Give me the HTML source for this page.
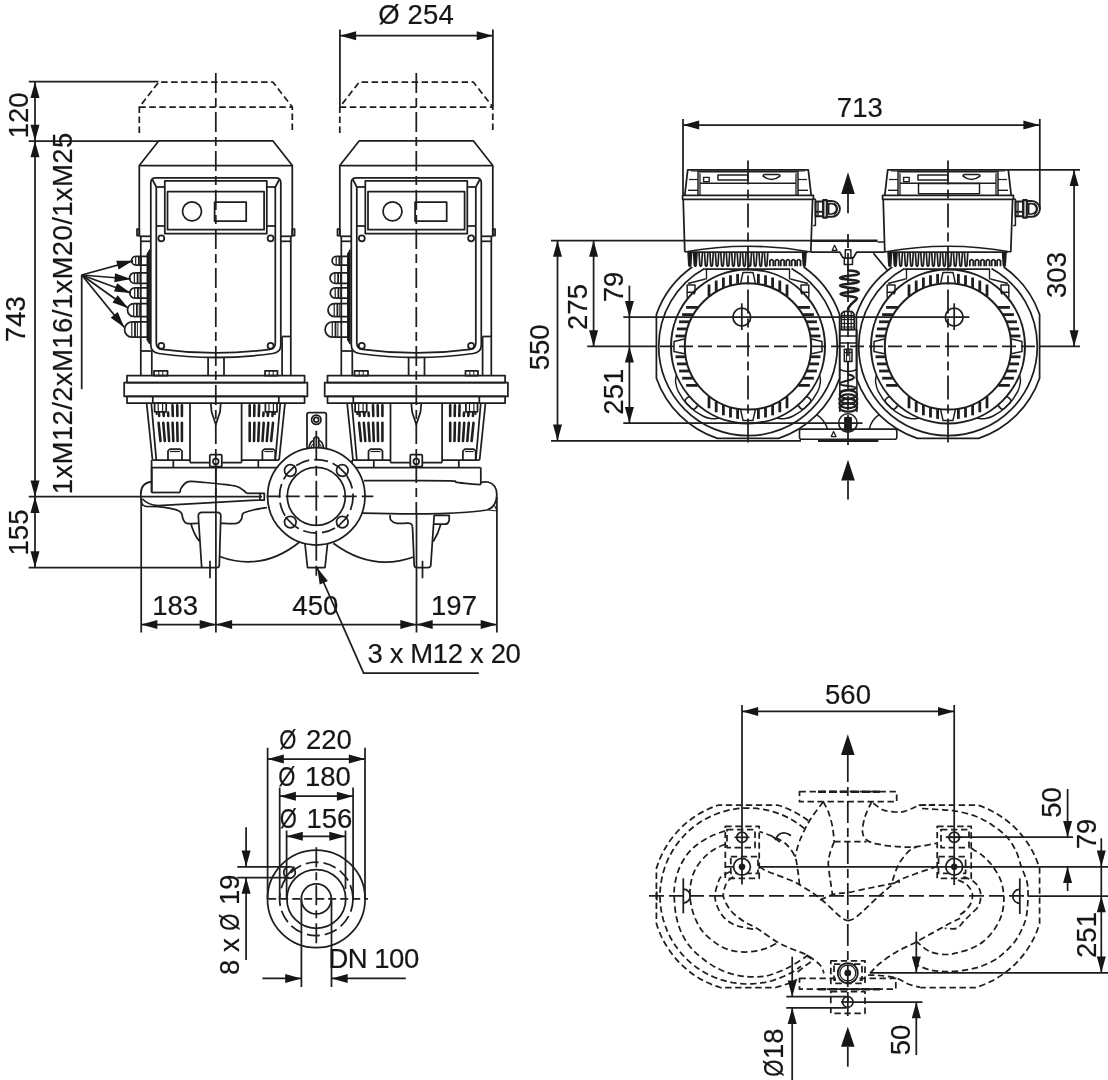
<!DOCTYPE html>
<html><head><meta charset="utf-8"><title>Dimension drawing</title>
<style>
html,body{margin:0;padding:0;background:#fff;}
body{width:1108px;height:1080px;overflow:hidden;}
svg{display:block;will-change:transform;opacity:0.999;}
svg *{vector-effect:none;}
.d{fill:none;stroke:#1e1e1e;stroke-width:1.75;stroke-linecap:butt;stroke-linejoin:round;}
text{font-family:"Liberation Sans",sans-serif;fill:#161616;stroke:#161616;stroke-width:0.2;stroke-linejoin:round;}
</style></head><body>
<svg width="1108" height="1080" viewBox="0 0 1108 1080">
<rect width="1108" height="1080" fill="#fff"/>
<g class="d">
<path d="M139.3,133 L139.3,107 L158.8,82 L272.8,82 L292.3,107 L292.3,133" stroke-dasharray="6.5 3.5"/>
<line x1="139.3" y1="107.0" x2="292.3" y2="107.0" stroke-dasharray="6.5 3.5"/>
<path d="M139.3,236 L139.3,165.5 L158.8,140.8 L272.8,140.8 L292.3,165.5 L292.3,236"/>
<line x1="139.3" y1="165.5" x2="292.3" y2="165.5"/>
<rect x="137.0" y="229.0" width="2.3" height="6.5"/>
<rect x="292.3" y="229.0" width="2.3" height="6.5"/>
<line x1="139.3" y1="236.3" x2="150.8" y2="236.3"/>
<line x1="280.8" y1="236.3" x2="292.3" y2="236.3"/>
<line x1="140.8" y1="241.3" x2="150.8" y2="241.3"/>
<line x1="280.8" y1="241.3" x2="290.8" y2="241.3"/>
<line x1="140.8" y1="236.3" x2="140.8" y2="375.5"/>
<line x1="290.8" y1="236.3" x2="290.8" y2="375.5"/>
<line x1="282.1" y1="336.5" x2="282.1" y2="375.5"/>
<line x1="282.1" y1="336.5" x2="290.8" y2="336.5"/>
<line x1="140.8" y1="351.0" x2="151.8" y2="351.0"/>
<line x1="151.8" y1="351.0" x2="151.8" y2="375.5"/>
<path d="M150.8,345.0 L150.8,182.8 Q150.8,177.8 155.8,177.8 L275.8,177.8 Q280.8,177.8 280.8,182.8 L280.8,345 Q280.8,352.5 272.8,353.5 Q215.8,361.5 158.8,353.5 Q150.8,352.5 150.8,345 Z"/>
<path d="M156.3,187 L156.3,343 Q156.3,348.5 161.8,349.3 Q215.8,356.6 269.8,349.3 Q275.3,348.5 275.3,343 L275.3,187"/>
<line x1="152.3" y1="179.5" x2="156.3" y2="187.0"/>
<line x1="279.3" y1="179.5" x2="275.3" y2="187.0"/>
<line x1="156.3" y1="187.0" x2="164.8" y2="187.0"/>
<line x1="275.3" y1="187.0" x2="266.8" y2="187.0"/>
<line x1="156.3" y1="226.0" x2="164.8" y2="226.0"/>
<line x1="275.3" y1="226.0" x2="266.8" y2="226.0"/>
<rect x="164.8" y="180.8" width="102.0" height="52.9"/>
<rect x="167.5" y="191.7" width="96.6" height="38.0"/>
<circle cx="192.0" cy="211.3" r="9.5"/>
<rect x="214.6" y="202.0" width="31.6" height="19.2"/>
<circle cx="161.3" cy="238.3" r="3.0"/>
<circle cx="161.3" cy="345.8" r="3.0"/>
<circle cx="270.6" cy="238.3" r="3.0"/>
<circle cx="270.6" cy="345.8" r="3.0"/>
<line x1="208.1" y1="358.0" x2="208.1" y2="375.5"/>
<line x1="224.0" y1="358.0" x2="224.0" y2="375.5"/>
<rect x="154.0" y="370.8" width="13.5" height="4.7"/>
<line x1="158.8" y1="370.8" x2="158.8" y2="375.5" stroke-width="1"/>
<line x1="162.8" y1="370.8" x2="162.8" y2="375.5" stroke-width="1"/>
<rect x="265.0" y="370.8" width="12.5" height="4.7"/>
<line x1="269.2" y1="370.8" x2="269.2" y2="375.5" stroke-width="1"/>
<line x1="273.2" y1="370.8" x2="273.2" y2="375.5" stroke-width="1"/>
<rect x="127.0" y="375.6" width="177.6" height="6.9"/>
<rect x="124.2" y="382.5" width="183.2" height="13.8"/>
<rect x="127.0" y="396.3" width="177.6" height="6.7"/>
<line x1="152.8" y1="396.3" x2="152.8" y2="403.0"/>
<line x1="278.8" y1="396.3" x2="278.8" y2="403.0"/>
<line x1="146.6" y1="403.0" x2="152.5" y2="460.0"/>
<line x1="151.3" y1="403.0" x2="156.3" y2="460.0"/>
<line x1="285.0" y1="403.0" x2="279.1" y2="460.0"/>
<line x1="280.3" y1="403.0" x2="275.3" y2="460.0"/>
<line x1="190.0" y1="403.0" x2="190.0" y2="462.5"/>
<line x1="241.6" y1="403.0" x2="241.6" y2="462.5"/>
<line x1="190.0" y1="462.5" x2="241.6" y2="462.5"/>
<line x1="181.9" y1="405.2" x2="181.9" y2="416.0" stroke-linecap="round" stroke-width="2.6"/>
<line x1="181.9" y1="422.8" x2="181.9" y2="441.0" stroke-linecap="round" stroke-width="2.6"/>
<line x1="177.2" y1="405.2" x2="177.4" y2="416.0" stroke-linecap="round" stroke-width="2.6"/>
<line x1="177.2" y1="422.8" x2="177.6" y2="441.0" stroke-linecap="round" stroke-width="2.6"/>
<line x1="172.5" y1="405.2" x2="172.8" y2="416.0" stroke-linecap="round" stroke-width="2.6"/>
<line x1="172.6" y1="422.8" x2="173.3" y2="441.0" stroke-linecap="round" stroke-width="2.6"/>
<line x1="168.1" y1="412.5" x2="168.3" y2="416.0" stroke-linecap="round" stroke-width="2.6"/>
<line x1="167.9" y1="422.8" x2="169.1" y2="441.0" stroke-linecap="round" stroke-width="2.6"/>
<line x1="163.4" y1="412.5" x2="163.8" y2="416.0" stroke-linecap="round" stroke-width="2.6"/>
<line x1="163.3" y1="422.8" x2="164.8" y2="441.0" stroke-linecap="round" stroke-width="2.6"/>
<line x1="158.8" y1="412.5" x2="159.2" y2="416.0" stroke-linecap="round" stroke-width="2.6"/>
<line x1="158.6" y1="422.8" x2="160.5" y2="441.0" stroke-linecap="round" stroke-width="2.6"/>
<rect x="154.6" y="403.0" width="11.6" height="8.8" fill="#fff"/>
<line x1="158.2" y1="403.0" x2="158.2" y2="411.8" stroke-width="1.2"/>
<line x1="162.6" y1="403.0" x2="162.6" y2="411.8" stroke-width="1.2"/>
<line x1="156.6" y1="411.8" x2="156.6" y2="415.0"/>
<line x1="164.2" y1="411.8" x2="164.2" y2="415.0"/>
<line x1="249.7" y1="405.2" x2="249.7" y2="416.0" stroke-linecap="round" stroke-width="2.6"/>
<line x1="249.7" y1="422.8" x2="249.7" y2="441.0" stroke-linecap="round" stroke-width="2.6"/>
<line x1="254.4" y1="405.2" x2="254.2" y2="416.0" stroke-linecap="round" stroke-width="2.6"/>
<line x1="254.4" y1="422.8" x2="254.0" y2="441.0" stroke-linecap="round" stroke-width="2.6"/>
<line x1="259.1" y1="405.2" x2="258.8" y2="416.0" stroke-linecap="round" stroke-width="2.6"/>
<line x1="259.0" y1="422.8" x2="258.3" y2="441.0" stroke-linecap="round" stroke-width="2.6"/>
<line x1="263.5" y1="412.5" x2="263.3" y2="416.0" stroke-linecap="round" stroke-width="2.6"/>
<line x1="263.7" y1="422.8" x2="262.5" y2="441.0" stroke-linecap="round" stroke-width="2.6"/>
<line x1="268.2" y1="412.5" x2="267.8" y2="416.0" stroke-linecap="round" stroke-width="2.6"/>
<line x1="268.3" y1="422.8" x2="266.8" y2="441.0" stroke-linecap="round" stroke-width="2.6"/>
<line x1="272.8" y1="412.5" x2="272.4" y2="416.0" stroke-linecap="round" stroke-width="2.6"/>
<line x1="273.0" y1="422.8" x2="271.1" y2="441.0" stroke-linecap="round" stroke-width="2.6"/>
<rect x="265.4" y="403.0" width="11.6" height="8.8" fill="#fff"/>
<line x1="269.0" y1="403.0" x2="269.0" y2="411.8" stroke-width="1.2"/>
<line x1="273.4" y1="403.0" x2="273.4" y2="411.8" stroke-width="1.2"/>
<line x1="267.4" y1="411.8" x2="267.4" y2="415.0"/>
<line x1="275.0" y1="411.8" x2="275.0" y2="415.0"/>
<path d="M168.0,460 L168.0,451 L170.0,449 L180.0,449 L182.0,451 L182.0,460"/>
<line x1="170.0" y1="451.5" x2="180.0" y2="451.5" stroke-width="1.2"/>
<path d="M262.4,460 L262.4,451 L264.4,449 L273.2,449 L275.2,451 L275.2,460"/>
<line x1="264.4" y1="451.5" x2="273.2" y2="451.5" stroke-width="1.2"/>
<path d="M210.8,403 L211.6,412 L215.8,424.5 L220.0,412 L220.8,403"/>
<line x1="152.5" y1="460.0" x2="190.0" y2="460.0"/>
<line x1="241.6" y1="460.0" x2="279.1" y2="460.0"/>
<line x1="151.6" y1="460.0" x2="151.6" y2="492.5"/>
<line x1="151.6" y1="467.5" x2="280.0" y2="467.5"/>
<line x1="173.3" y1="460.0" x2="173.3" y2="467.5"/>
<line x1="258.3" y1="460.0" x2="258.3" y2="467.5"/>
<rect x="209.8" y="454.7" width="12.0" height="12.0" rx="1" fill="#fff"/>
<circle cx="215.8" cy="461.5" r="2.8"/>
<line x1="215.8" y1="458.5" x2="215.8" y2="464.5" stroke-width="1"/>
<path d="M339.8,133 L339.8,107 L359.3,82 L473.3,82 L492.8,107 L492.8,133" stroke-dasharray="6.5 3.5"/>
<line x1="339.8" y1="107.0" x2="492.8" y2="107.0" stroke-dasharray="6.5 3.5"/>
<path d="M339.8,236 L339.8,165.5 L359.3,140.8 L473.3,140.8 L492.8,165.5 L492.8,236"/>
<line x1="339.8" y1="165.5" x2="492.8" y2="165.5"/>
<rect x="337.5" y="229.0" width="2.3" height="6.5"/>
<rect x="492.8" y="229.0" width="2.3" height="6.5"/>
<line x1="339.8" y1="236.3" x2="351.3" y2="236.3"/>
<line x1="481.3" y1="236.3" x2="492.8" y2="236.3"/>
<line x1="341.3" y1="241.3" x2="351.3" y2="241.3"/>
<line x1="481.3" y1="241.3" x2="491.3" y2="241.3"/>
<line x1="341.3" y1="236.3" x2="341.3" y2="375.5"/>
<line x1="491.3" y1="236.3" x2="491.3" y2="375.5"/>
<line x1="482.6" y1="336.5" x2="482.6" y2="375.5"/>
<line x1="482.6" y1="336.5" x2="491.3" y2="336.5"/>
<line x1="341.3" y1="351.0" x2="352.3" y2="351.0"/>
<line x1="352.3" y1="351.0" x2="352.3" y2="375.5"/>
<path d="M351.3,345.0 L351.3,182.8 Q351.3,177.8 356.3,177.8 L476.3,177.8 Q481.3,177.8 481.3,182.8 L481.3,345 Q481.3,352.5 473.3,353.5 Q416.3,361.5 359.3,353.5 Q351.3,352.5 351.3,345 Z"/>
<path d="M356.8,187 L356.8,343 Q356.8,348.5 362.3,349.3 Q416.3,356.6 470.3,349.3 Q475.8,348.5 475.8,343 L475.8,187"/>
<line x1="352.8" y1="179.5" x2="356.8" y2="187.0"/>
<line x1="479.8" y1="179.5" x2="475.8" y2="187.0"/>
<line x1="356.8" y1="187.0" x2="365.3" y2="187.0"/>
<line x1="475.8" y1="187.0" x2="467.3" y2="187.0"/>
<line x1="356.8" y1="226.0" x2="365.3" y2="226.0"/>
<line x1="475.8" y1="226.0" x2="467.3" y2="226.0"/>
<rect x="365.3" y="180.8" width="102.0" height="52.9"/>
<rect x="368.0" y="191.7" width="96.6" height="38.0"/>
<circle cx="392.5" cy="211.3" r="9.5"/>
<rect x="415.1" y="202.0" width="31.6" height="19.2"/>
<circle cx="361.8" cy="238.3" r="3.0"/>
<circle cx="361.8" cy="345.8" r="3.0"/>
<circle cx="471.1" cy="238.3" r="3.0"/>
<circle cx="471.1" cy="345.8" r="3.0"/>
<line x1="408.6" y1="358.0" x2="408.6" y2="375.5"/>
<line x1="424.5" y1="358.0" x2="424.5" y2="375.5"/>
<rect x="354.5" y="370.8" width="13.5" height="4.7"/>
<line x1="359.2" y1="370.8" x2="359.2" y2="375.5" stroke-width="1"/>
<line x1="363.2" y1="370.8" x2="363.2" y2="375.5" stroke-width="1"/>
<rect x="465.5" y="370.8" width="12.5" height="4.7"/>
<line x1="469.8" y1="370.8" x2="469.8" y2="375.5" stroke-width="1"/>
<line x1="473.8" y1="370.8" x2="473.8" y2="375.5" stroke-width="1"/>
<rect x="327.5" y="375.6" width="177.6" height="6.9"/>
<rect x="324.7" y="382.5" width="183.2" height="13.8"/>
<rect x="327.5" y="396.3" width="177.6" height="6.7"/>
<line x1="353.3" y1="396.3" x2="353.3" y2="403.0"/>
<line x1="479.3" y1="396.3" x2="479.3" y2="403.0"/>
<line x1="347.1" y1="403.0" x2="353.0" y2="460.0"/>
<line x1="351.8" y1="403.0" x2="356.8" y2="460.0"/>
<line x1="485.5" y1="403.0" x2="479.6" y2="460.0"/>
<line x1="480.8" y1="403.0" x2="475.8" y2="460.0"/>
<line x1="390.5" y1="403.0" x2="390.5" y2="462.5"/>
<line x1="442.1" y1="403.0" x2="442.1" y2="462.5"/>
<line x1="390.5" y1="462.5" x2="442.1" y2="462.5"/>
<line x1="382.4" y1="405.2" x2="382.4" y2="416.0" stroke-linecap="round" stroke-width="2.6"/>
<line x1="382.4" y1="422.8" x2="382.4" y2="441.0" stroke-linecap="round" stroke-width="2.6"/>
<line x1="377.7" y1="405.2" x2="377.9" y2="416.0" stroke-linecap="round" stroke-width="2.6"/>
<line x1="377.7" y1="422.8" x2="378.1" y2="441.0" stroke-linecap="round" stroke-width="2.6"/>
<line x1="373.0" y1="405.2" x2="373.3" y2="416.0" stroke-linecap="round" stroke-width="2.6"/>
<line x1="373.1" y1="422.8" x2="373.8" y2="441.0" stroke-linecap="round" stroke-width="2.6"/>
<line x1="368.6" y1="412.5" x2="368.8" y2="416.0" stroke-linecap="round" stroke-width="2.6"/>
<line x1="368.4" y1="422.8" x2="369.6" y2="441.0" stroke-linecap="round" stroke-width="2.6"/>
<line x1="363.9" y1="412.5" x2="364.3" y2="416.0" stroke-linecap="round" stroke-width="2.6"/>
<line x1="363.8" y1="422.8" x2="365.3" y2="441.0" stroke-linecap="round" stroke-width="2.6"/>
<line x1="359.3" y1="412.5" x2="359.7" y2="416.0" stroke-linecap="round" stroke-width="2.6"/>
<line x1="359.1" y1="422.8" x2="361.0" y2="441.0" stroke-linecap="round" stroke-width="2.6"/>
<rect x="355.1" y="403.0" width="11.6" height="8.8" fill="#fff"/>
<line x1="358.7" y1="403.0" x2="358.7" y2="411.8" stroke-width="1.2"/>
<line x1="363.1" y1="403.0" x2="363.1" y2="411.8" stroke-width="1.2"/>
<line x1="357.1" y1="411.8" x2="357.1" y2="415.0"/>
<line x1="364.7" y1="411.8" x2="364.7" y2="415.0"/>
<line x1="450.2" y1="405.2" x2="450.2" y2="416.0" stroke-linecap="round" stroke-width="2.6"/>
<line x1="450.2" y1="422.8" x2="450.2" y2="441.0" stroke-linecap="round" stroke-width="2.6"/>
<line x1="454.9" y1="405.2" x2="454.7" y2="416.0" stroke-linecap="round" stroke-width="2.6"/>
<line x1="454.9" y1="422.8" x2="454.5" y2="441.0" stroke-linecap="round" stroke-width="2.6"/>
<line x1="459.6" y1="405.2" x2="459.3" y2="416.0" stroke-linecap="round" stroke-width="2.6"/>
<line x1="459.5" y1="422.8" x2="458.8" y2="441.0" stroke-linecap="round" stroke-width="2.6"/>
<line x1="464.0" y1="412.5" x2="463.8" y2="416.0" stroke-linecap="round" stroke-width="2.6"/>
<line x1="464.2" y1="422.8" x2="463.0" y2="441.0" stroke-linecap="round" stroke-width="2.6"/>
<line x1="468.7" y1="412.5" x2="468.3" y2="416.0" stroke-linecap="round" stroke-width="2.6"/>
<line x1="468.8" y1="422.8" x2="467.3" y2="441.0" stroke-linecap="round" stroke-width="2.6"/>
<line x1="473.3" y1="412.5" x2="472.9" y2="416.0" stroke-linecap="round" stroke-width="2.6"/>
<line x1="473.5" y1="422.8" x2="471.6" y2="441.0" stroke-linecap="round" stroke-width="2.6"/>
<rect x="465.9" y="403.0" width="11.6" height="8.8" fill="#fff"/>
<line x1="469.5" y1="403.0" x2="469.5" y2="411.8" stroke-width="1.2"/>
<line x1="473.9" y1="403.0" x2="473.9" y2="411.8" stroke-width="1.2"/>
<line x1="467.9" y1="411.8" x2="467.9" y2="415.0"/>
<line x1="475.5" y1="411.8" x2="475.5" y2="415.0"/>
<path d="M368.5,460 L368.5,451 L370.5,449 L380.5,449 L382.5,451 L382.5,460"/>
<line x1="370.5" y1="451.5" x2="380.5" y2="451.5" stroke-width="1.2"/>
<path d="M462.9,460 L462.9,451 L464.9,449 L473.7,449 L475.7,451 L475.7,460"/>
<line x1="464.9" y1="451.5" x2="473.7" y2="451.5" stroke-width="1.2"/>
<path d="M411.3,403 L412.1,412 L416.3,424.5 L420.5,412 L421.3,403"/>
<line x1="353.0" y1="460.0" x2="390.5" y2="460.0"/>
<line x1="442.1" y1="460.0" x2="479.6" y2="460.0"/>
<line x1="352.1" y1="460.0" x2="352.1" y2="492.5"/>
<line x1="352.1" y1="467.5" x2="480.5" y2="467.5"/>
<line x1="373.8" y1="460.0" x2="373.8" y2="467.5"/>
<line x1="458.8" y1="460.0" x2="458.8" y2="467.5"/>
<rect x="410.3" y="454.7" width="12.0" height="12.0" rx="1" fill="#fff"/>
<circle cx="416.3" cy="461.5" r="2.8"/>
<line x1="416.3" y1="458.5" x2="416.3" y2="464.5" stroke-width="1"/>
<path d="M149.6,249.5 L149.6,344 L147.0,340 L147.0,254 Z" stroke-width="1" fill="#161616"/>
<path d="M135.7,256.4 A4.1,4.3 0 0 0 135.7,265.0"/>
<path d="M135.7,256.4 L147.3,256.4 M135.7,265.0 L147.3,265.0"/>
<line x1="135.7" y1="256.4" x2="135.7" y2="265.0" stroke-width="1.2"/>
<line x1="138.9" y1="256.4" x2="138.9" y2="265.0" stroke-width="1.8"/>
<line x1="141.3" y1="256.4" x2="141.3" y2="265.0" stroke-width="1.0"/>
<path d="M134.4,272.9 A4.9,5.2 0 0 0 134.4,283.3"/>
<path d="M134.4,272.9 L147.3,272.9 M134.4,283.3 L147.3,283.3"/>
<line x1="134.4" y1="272.9" x2="134.4" y2="283.3" stroke-width="1.2"/>
<line x1="137.6" y1="272.9" x2="137.6" y2="283.3" stroke-width="1.8"/>
<line x1="140.0" y1="272.9" x2="140.0" y2="283.3" stroke-width="1.0"/>
<path d="M134.7,287.8 A4.9,5.2 0 0 0 134.7,298.2"/>
<path d="M134.7,287.8 L147.3,287.8 M134.7,298.2 L147.3,298.2"/>
<line x1="134.7" y1="287.8" x2="134.7" y2="298.2" stroke-width="1.2"/>
<line x1="137.9" y1="287.8" x2="137.9" y2="298.2" stroke-width="1.8"/>
<line x1="140.3" y1="287.8" x2="140.3" y2="298.2" stroke-width="1.0"/>
<path d="M133.7,303.6 A6.2,6.5 0 0 0 133.7,316.6"/>
<path d="M133.7,303.6 L147.3,303.6 M133.7,316.6 L147.3,316.6"/>
<line x1="133.7" y1="303.6" x2="133.7" y2="316.6" stroke-width="1.2"/>
<line x1="136.9" y1="303.6" x2="136.9" y2="316.6" stroke-width="1.8"/>
<line x1="139.3" y1="303.6" x2="139.3" y2="316.6" stroke-width="1.0"/>
<path d="M131.8,321.9 A7.2,7.6 0 0 0 131.8,337.1"/>
<path d="M131.8,321.9 L147.3,321.9 M131.8,337.1 L147.3,337.1"/>
<line x1="131.8" y1="321.9" x2="131.8" y2="337.1" stroke-width="1.2"/>
<line x1="135.0" y1="321.9" x2="135.0" y2="337.1" stroke-width="1.8"/>
<line x1="137.4" y1="321.9" x2="137.4" y2="337.1" stroke-width="1.0"/>
<path d="M350.1,249.5 L350.1,344 L347.5,340 L347.5,254 Z" stroke-width="1" fill="#161616"/>
<path d="M336.2,256.4 A4.1,4.3 0 0 0 336.2,265.0"/>
<path d="M336.2,256.4 L347.8,256.4 M336.2,265.0 L347.8,265.0"/>
<line x1="336.2" y1="256.4" x2="336.2" y2="265.0" stroke-width="1.2"/>
<line x1="339.4" y1="256.4" x2="339.4" y2="265.0" stroke-width="1.8"/>
<line x1="341.8" y1="256.4" x2="341.8" y2="265.0" stroke-width="1.0"/>
<path d="M334.9,272.9 A4.9,5.2 0 0 0 334.9,283.3"/>
<path d="M334.9,272.9 L347.8,272.9 M334.9,283.3 L347.8,283.3"/>
<line x1="334.9" y1="272.9" x2="334.9" y2="283.3" stroke-width="1.2"/>
<line x1="338.1" y1="272.9" x2="338.1" y2="283.3" stroke-width="1.8"/>
<line x1="340.5" y1="272.9" x2="340.5" y2="283.3" stroke-width="1.0"/>
<path d="M335.2,287.8 A4.9,5.2 0 0 0 335.2,298.2"/>
<path d="M335.2,287.8 L347.8,287.8 M335.2,298.2 L347.8,298.2"/>
<line x1="335.2" y1="287.8" x2="335.2" y2="298.2" stroke-width="1.2"/>
<line x1="338.4" y1="287.8" x2="338.4" y2="298.2" stroke-width="1.8"/>
<line x1="340.8" y1="287.8" x2="340.8" y2="298.2" stroke-width="1.0"/>
<path d="M334.2,303.6 A6.2,6.5 0 0 0 334.2,316.6"/>
<path d="M334.2,303.6 L347.8,303.6 M334.2,316.6 L347.8,316.6"/>
<line x1="334.2" y1="303.6" x2="334.2" y2="316.6" stroke-width="1.2"/>
<line x1="337.4" y1="303.6" x2="337.4" y2="316.6" stroke-width="1.8"/>
<line x1="339.8" y1="303.6" x2="339.8" y2="316.6" stroke-width="1.0"/>
<path d="M332.3,321.9 A7.2,7.6 0 0 0 332.3,337.1"/>
<path d="M332.3,321.9 L347.8,321.9 M332.3,337.1 L347.8,337.1"/>
<line x1="332.3" y1="321.9" x2="332.3" y2="337.1" stroke-width="1.2"/>
<line x1="335.5" y1="321.9" x2="335.5" y2="337.1" stroke-width="1.8"/>
<line x1="337.9" y1="321.9" x2="337.9" y2="337.1" stroke-width="1.0"/>
<line x1="151.7" y1="467.5" x2="151.7" y2="492.5"/>
<line x1="151.7" y1="492.5" x2="180.0" y2="492.5"/>
<path d="M180.0,492.5 C180.2,491.7 180.1,489.3 181.5,487.5 C182.9,485.7 184.4,482.5 188.3,481.7 C192.2,480.9 199.7,482.1 205.0,482.5 C210.3,482.9 214.7,483.3 220.0,484.0 C225.3,484.7 232.9,485.5 236.7,486.5 C240.5,487.5 241.3,488.9 243.0,490.0 C244.7,491.1 246.1,492.8 246.7,493.3"/>
<line x1="246.7" y1="493.3" x2="260.0" y2="493.3"/>
<rect x="260.0" y="493.3" width="4.3" height="6.7"/>
<path d="M151.7,481.7 Q140.8,483 140.8,494 L141.5,502 Q142,506 146,506.3 L158.3,506.7"/>
<path d="M142.5,499 Q148,505 158.3,505.6 L260,500"/>
<path d="M158.3,506.7 C160.2,507.0 166.7,507.7 170.0,508.3 C173.3,508.9 176.1,509.6 178.0,510.5 C179.9,511.4 180.9,512.1 181.7,513.5 C182.5,514.9 182.2,517.4 183.0,519.0 C183.8,520.6 184.1,522.6 186.7,523.3 C189.2,524.0 196.4,523.3 198.3,523.3"/>
<path d="M220.8,523.3 C223.5,523.3 233.2,524.0 236.7,523.3 C240.1,522.6 240.4,520.7 241.5,519.0 C242.6,517.3 241.3,514.8 243.3,513.3 C245.3,511.8 249.4,511.0 253.3,510.0 C257.2,509.0 264.7,507.9 267.0,507.5"/>
<path d="M198.3,516 Q198.3,512.3 202,512.3 L217,512.3 Q220.8,512.3 220.8,516 L219.3,565 Q219.2,567.5 217,567.5 L201.7,567.5 Z"/>
<path d="M190.8,523.3 Q194,535 199.6,541.5"/>
<path d="M219.5,556.5 Q262,572 299,542.5"/>
<circle cx="316.3" cy="496.3" r="48.7" fill="#fff"/>
<circle cx="316.3" cy="496.3" r="29.0"/>
<circle cx="316.3" cy="496.3" r="36.8" stroke-dasharray="14 5"/>
<circle cx="290.3" cy="470.5" r="5.8" fill="#fff"/>
<line x1="285.4" y1="475.4" x2="295.2" y2="465.6"/>
<circle cx="290.3" cy="522.1" r="5.8" fill="#fff"/>
<line x1="295.2" y1="527.0" x2="285.4" y2="517.2"/>
<circle cx="342.3" cy="470.5" r="5.8" fill="#fff"/>
<line x1="337.4" y1="465.6" x2="347.2" y2="475.4"/>
<circle cx="342.3" cy="522.1" r="5.8" fill="#fff"/>
<line x1="347.2" y1="517.2" x2="337.4" y2="527.0"/>
<path d="M307,449 L307,414.5 Q307,412.5 309,412.5 L324.3,412.5 Q326.3,412.5 326.3,414.5 L326.3,449"/>
<circle cx="316.3" cy="419.7" r="4.7"/>
<circle cx="316.3" cy="419.7" r="2.4"/>
<path d="M313.8,447 L313.8,438.5 Q316.3,435 318.8,438.5 L318.8,447"/>
<path d="M309,448 Q310,441 313.8,440.5 M323.6,448 Q322.6,441 318.8,440.5"/>
<path d="M311,448 Q312,443.5 313.8,443.5 M321.6,448 Q320.6,443.5 318.8,443.5" stroke-width="1"/>
<path d="M305,544 L307.5,567.5 L325,567.5 L327.5,544"/>
<line x1="480.8" y1="467.5" x2="480.8" y2="484.5"/>
<path d="M364.0,480.5 C370.0,480.5 385.7,480.6 400.0,480.6 C414.3,480.7 440.6,480.5 450.0,480.8 C459.4,481.1 453.4,481.8 456.7,482.3 C460.0,482.8 466.0,483.4 470.0,483.8 C474.0,484.2 479.0,484.6 480.8,484.7"/>
<path d="M480.8,482.5 Q485,481.5 488,482 Q497,484.5 496.8,495 Q496.5,507 487,510 Q470,512.5 440,513.6 Q410,514.5 362.5,513.2"/>
<path d="M494.5,505.5 L497.2,511 M488.5,510 L497.2,511" stroke-width="1.2"/>
<path d="M390.0,515.0 C390.1,515.8 389.7,518.6 390.8,520.0 C391.9,521.4 393.5,522.8 396.7,523.3 C399.9,523.8 407.4,522.7 410.0,523.3 C412.6,523.9 412.1,526.1 412.5,526.7"/>
<path d="M412.5,526.7 L414.2,565 Q414.3,567.5 416.5,567.5 L428.3,567.5 Q430.6,567.5 430.8,565 L434.2,515"/>
<path d="M434.2,515.3 L449.2,515.3 L449.2,520 Q448.5,524.2 445,524.2 L434,524.2"/>
<path d="M440.8,524.2 Q438,534 433.3,541.5"/>
<path d="M333.3,543.3 Q372,572 413.5,557"/>
<line x1="210.0" y1="560.8" x2="210.0" y2="578.3"/>
<line x1="422.5" y1="560.8" x2="422.5" y2="578.3"/>
<path d="M692.3,267.0 A97,97 0 0 0 656.4,314.5 L656.4,378.3 A97,97 0 0 0 717.3,438.4 L778.7,438.4 A97,97 0 0 0 839.6,378.3 L839.6,314.5 A97,97 0 0 0 803.7,267.0"/>
<path d="M704.5,268.4 A89.3,89.3 0 0 0 658.7,346.4 L658.7,346.4 A89.3,89.3 0 0 0 748.0,435.7 L748.0,435.7 A89.3,89.3 0 0 0 837.3,346.4 L837.3,346.4 A89.3,89.3 0 0 0 791.5,268.4"/>
<circle cx="748.0" cy="346.4" r="77.0" stroke-width="2.0"/>
<circle cx="748.0" cy="346.4" r="63.2" stroke-width="2.0"/>
<line x1="737.6" y1="283.7" x2="737.6" y2="273.9" stroke-width="2.8"/>
<line x1="685.3" y1="336.0" x2="675.5" y2="336.0" stroke-width="2.8"/>
<line x1="737.6" y1="409.1" x2="737.6" y2="418.9" stroke-width="2.8"/>
<line x1="810.7" y1="336.0" x2="820.5" y2="336.0" stroke-width="2.8"/>
<line x1="758.4" y1="283.7" x2="758.4" y2="273.9" stroke-width="2.8"/>
<line x1="685.3" y1="356.8" x2="675.5" y2="356.8" stroke-width="2.8"/>
<line x1="758.4" y1="409.1" x2="758.4" y2="418.9" stroke-width="2.8"/>
<line x1="810.7" y1="356.8" x2="820.5" y2="356.8" stroke-width="2.8"/>
<line x1="730.5" y1="285.3" x2="730.5" y2="275.3" stroke-width="2.8"/>
<line x1="686.9" y1="328.9" x2="676.9" y2="328.9" stroke-width="2.8"/>
<line x1="730.5" y1="407.5" x2="730.5" y2="417.5" stroke-width="2.8"/>
<line x1="809.1" y1="328.9" x2="819.1" y2="328.9" stroke-width="2.8"/>
<line x1="765.5" y1="285.3" x2="765.5" y2="275.3" stroke-width="2.8"/>
<line x1="686.9" y1="363.9" x2="676.9" y2="363.9" stroke-width="2.8"/>
<line x1="765.5" y1="407.5" x2="765.5" y2="417.5" stroke-width="2.8"/>
<line x1="809.1" y1="363.9" x2="819.1" y2="363.9" stroke-width="2.8"/>
<line x1="723.4" y1="287.8" x2="723.4" y2="277.5" stroke-width="2.8"/>
<line x1="689.4" y1="321.8" x2="679.1" y2="321.8" stroke-width="2.8"/>
<line x1="723.4" y1="405.0" x2="723.4" y2="415.3" stroke-width="2.8"/>
<line x1="806.6" y1="321.8" x2="816.9" y2="321.8" stroke-width="2.8"/>
<line x1="772.6" y1="287.8" x2="772.6" y2="277.5" stroke-width="2.8"/>
<line x1="689.4" y1="371.0" x2="679.1" y2="371.0" stroke-width="2.8"/>
<line x1="772.6" y1="405.0" x2="772.6" y2="415.3" stroke-width="2.8"/>
<line x1="806.6" y1="371.0" x2="816.9" y2="371.0" stroke-width="2.8"/>
<line x1="716.2" y1="291.3" x2="716.2" y2="280.5" stroke-width="2.8"/>
<line x1="692.9" y1="314.6" x2="682.1" y2="314.6" stroke-width="2.8"/>
<line x1="716.2" y1="401.5" x2="716.2" y2="412.3" stroke-width="2.8"/>
<line x1="803.1" y1="314.6" x2="813.9" y2="314.6" stroke-width="2.8"/>
<line x1="779.8" y1="291.3" x2="779.8" y2="280.5" stroke-width="2.8"/>
<line x1="692.9" y1="378.2" x2="682.1" y2="378.2" stroke-width="2.8"/>
<line x1="779.8" y1="401.5" x2="779.8" y2="412.3" stroke-width="2.8"/>
<line x1="803.1" y1="378.2" x2="813.9" y2="378.2" stroke-width="2.8"/>
<line x1="709.0" y1="296.2" x2="709.0" y2="284.5" stroke-width="2.8"/>
<line x1="697.8" y1="307.4" x2="686.1" y2="307.4" stroke-width="2.8"/>
<line x1="709.0" y1="396.6" x2="709.0" y2="408.3" stroke-width="2.8"/>
<line x1="798.2" y1="307.4" x2="809.9" y2="307.4" stroke-width="2.8"/>
<line x1="787.0" y1="296.2" x2="787.0" y2="284.5" stroke-width="2.8"/>
<line x1="697.8" y1="385.4" x2="686.1" y2="385.4" stroke-width="2.8"/>
<line x1="787.0" y1="396.6" x2="787.0" y2="408.3" stroke-width="2.8"/>
<line x1="798.2" y1="385.4" x2="809.9" y2="385.4" stroke-width="2.8"/>
<path d="M811.5,353.7 L822.0,351.4 L822.0,341.4 L811.5,339.1" stroke-width="1.5"/>
<path d="M740.7,409.9 L743.0,420.4 L753.0,420.4 L755.3,409.9" stroke-width="1.5"/>
<path d="M684.5,339.1 L674.0,341.4 L674.0,351.4 L684.5,353.7" stroke-width="1.5"/>
<path d="M755.3,282.9 L753.0,272.4 L743.0,272.4 L740.7,282.9" stroke-width="1.5"/>
<path d="M819.7,375.4 C819.8,376.4 820.7,379.0 820.4,381.7 C820.0,384.4 819.8,387.6 817.6,391.6 C815.5,395.6 811.5,401.7 807.4,405.8 C803.3,409.9 797.2,413.9 793.2,416.0 C789.2,418.2 786.0,418.4 783.3,418.8 C780.6,419.1 778.0,418.2 777.0,418.1" stroke-width="1.5"/>
<path d="M806.8,396.6 Q814.8,400.5 807.0,405.4" stroke-width="1.6"/>
<path d="M798.2,405.2 Q802.1,413.2 807.0,405.4" stroke-width="1.6"/>
<rect x="801.0" y="285.0" width="7.8" height="7.3" stroke-width="1.5"/>
<path d="M808.8,292.3 L808.8,298.5 M801.0,292.3 L802.4,294.5" stroke-width="1.4"/>
<path d="M807.9,283.5 L790.5,279 M789.5,268.4 L789.5,279.5" stroke-width="1.4"/>
<path d="M676.3,375.4 C676.2,376.4 675.3,379.0 675.6,381.7 C676.0,384.4 676.2,387.6 678.4,391.6 C680.5,395.6 684.5,401.7 688.6,405.8 C692.7,409.9 698.8,413.9 702.8,416.0 C706.8,418.2 710.0,418.4 712.7,418.8 C715.4,419.1 718.0,418.2 719.0,418.1" stroke-width="1.5"/>
<path d="M689.2,396.6 Q681.2,400.5 689.0,405.4" stroke-width="1.6"/>
<path d="M697.8,405.2 Q693.9,413.2 689.0,405.4" stroke-width="1.6"/>
<rect x="687.2" y="285.0" width="7.8" height="7.3" stroke-width="1.5"/>
<path d="M687.2,292.3 L687.2,298.5 M695.0,292.3 L693.6,294.5" stroke-width="1.4"/>
<path d="M688.1,283.5 L705.5,279 M706.5,268.4 L706.5,279.5" stroke-width="1.4"/>
<circle cx="741.8" cy="317.1" r="8.9"/>
<line x1="741.8" y1="303.3" x2="741.8" y2="330.0"/>
<line x1="687.5" y1="252.0" x2="807.8" y2="252.0"/>
<path d="M688.1,252.3 L688.9,265.1 Q689.8,267.5 690.7,265.1 L691.5,252.3" stroke-width="1.7" fill="#161616"/>
<path d="M693.6,252.3 L694.4,265.1 Q695.3,267.5 696.2,265.1 L697.0,252.3" stroke-width="1.7" fill="#161616"/>
<path d="M699.0,252.3 L699.8,265.1 Q700.7,267.5 701.6,265.1 L702.4,252.3" stroke-width="1.7" fill="none"/>
<path d="M704.5,252.3 L705.3,265.1 Q706.2,267.5 707.1,265.1 L707.9,252.3" stroke-width="1.7" fill="none"/>
<path d="M709.9,252.3 L710.7,265.1 Q711.6,267.5 712.5,265.1 L713.3,252.3" stroke-width="1.7" fill="none"/>
<path d="M715.4,252.3 L716.2,265.1 Q717.1,267.5 718.0,265.1 L718.8,252.3" stroke-width="1.7" fill="none"/>
<path d="M720.8,252.3 L721.6,265.1 Q722.5,267.5 723.4,265.1 L724.2,252.3" stroke-width="1.7" fill="none"/>
<path d="M726.3,252.3 L727.1,265.1 Q728.0,267.5 728.9,265.1 L729.7,252.3" stroke-width="1.7" fill="none"/>
<path d="M731.7,252.3 L732.5,265.1 Q733.4,267.5 734.3,265.1 L735.1,252.3" stroke-width="1.7" fill="none"/>
<path d="M737.2,252.3 L738.0,265.1 Q738.9,267.5 739.8,265.1 L740.6,252.3" stroke-width="1.7" fill="none"/>
<path d="M742.6,252.3 L743.4,265.1 Q744.3,267.5 745.2,265.1 L746.0,252.3" stroke-width="1.7" fill="none"/>
<path d="M748.1,252.3 L748.9,265.1 Q749.8,267.5 750.7,265.1 L751.5,252.3" stroke-width="1.7" fill="none"/>
<path d="M753.5,252.3 L754.3,265.1 Q755.2,267.5 756.1,265.1 L756.9,252.3" stroke-width="1.7" fill="none"/>
<path d="M759.0,252.3 L759.8,265.1 Q760.7,267.5 761.6,265.1 L762.4,252.3" stroke-width="1.7" fill="none"/>
<path d="M764.4,252.3 L765.2,265.1 Q766.1,267.5 767.0,265.1 L767.8,252.3" stroke-width="1.7" fill="none"/>
<path d="M769.9,266.3 L769.9,260.8 Q771.6,258.3 773.3,260.8 L773.3,266.3" stroke-width="1.8"/>
<path d="M775.3,266.3 L775.3,260.8 Q777.0,258.3 778.7,260.8 L778.7,266.3" stroke-width="1.8"/>
<path d="M780.8,266.3 L780.8,260.8 Q782.5,258.3 784.2,260.8 L784.2,266.3" stroke-width="1.8"/>
<path d="M786.2,266.3 L786.2,260.8 Q787.9,258.3 789.6,260.8 L789.6,266.3" stroke-width="1.8"/>
<path d="M791.7,266.3 L791.7,260.8 Q793.4,258.3 795.1,260.8 L795.1,266.3" stroke-width="1.8"/>
<path d="M797.1,266.3 L797.1,260.8 Q798.8,258.3 800.5,260.8 L800.5,266.3" stroke-width="1.8"/>
<path d="M802.6,252.3 L803.4,265.1 Q804.3,267.5 805.2,265.1 L806.0,252.3" stroke-width="1.7" fill="#161616"/>
<line x1="704.4" y1="269.2" x2="789.5" y2="269.2"/>
<path d="M684.8,252 L683.2,199.3 M810.8,252 L812.6,199.3"/>
<path d="M684.8,252 Q748.0,240.5 810.8,252" stroke-width="1.5"/>
<rect x="682.6" y="195.3" width="130.8" height="4.0"/>
<path d="M684.8,195.3 L687.7,169.8 L808.3,169.8 L811.2,195.3"/>
<path d="M698.0,195.3 L698.0,171.8 L798.0,171.8 L798.0,195.3" stroke-width="1.5"/>
<path d="M700.0,195.3 L700.0,173.2 M796.0,195.3 L796.0,173.2" stroke-width="1.3"/>
<line x1="700.0" y1="183.2" x2="796.0" y2="183.2" stroke-width="1.4"/>
<line x1="688.0" y1="190.3" x2="698.0" y2="190.3" stroke-width="1.4"/>
<line x1="808.0" y1="190.3" x2="798.0" y2="190.3" stroke-width="1.4"/>
<line x1="689.0" y1="179.5" x2="698.0" y2="179.5" stroke-width="1.2"/>
<line x1="807.0" y1="179.5" x2="798.0" y2="179.5" stroke-width="1.2"/>
<line x1="691.0" y1="171.0" x2="805.0" y2="171.0" stroke-width="1.2"/>
<rect x="703.6" y="177.4" width="5.6" height="4.4" stroke-width="1.4"/>
<rect x="718.0" y="175.0" width="30.0" height="5.0" stroke-width="1.5"/>
<path d="M763.0,176.2 Q763.0,174.6 765.0,174.6 L778.0,174.6 Q780.0,174.6 780.0,176.2 Q771.5,183 763.0,176.2 Z" stroke-width="1.5"/>
<path d="M812.8,199.3 L815.4,199.3 L815.4,225.6 L813.2,225.6" stroke-width="1.5"/>
<rect x="815.6" y="201.6" width="7.6" height="14.6" stroke-width="2.0"/>
<rect x="823.2" y="200.2" width="3.6" height="17.4" stroke-width="2.2"/>
<line x1="818.0" y1="201.6" x2="818.0" y2="216.2" stroke-width="1.4"/>
<line x1="815.6" y1="211.8" x2="823.2" y2="211.8" stroke-width="1.8"/>
<path d="M827.0,201 L831.8,201 A8.1,7.9 0 0 1 831.8,216.8 L827.0,216.8" stroke-width="1.9"/>
<path d="M828.6,203.6 L831.3,203.6 A5.3,5.2 0 0 1 831.3,214 L828.6,214 Z" stroke-width="1.7"/>
<path d="M834.0,203.2 A6.6,6.6 0 0 1 834.0,214.6" stroke-width="1.3"/>
<path d="M892.3,267.0 A97,97 0 0 0 856.4,314.5 L856.4,378.3 A97,97 0 0 0 917.3,438.4 L978.7,438.4 A97,97 0 0 0 1039.6,378.3 L1039.6,314.5 A97,97 0 0 0 1003.7,267.0"/>
<path d="M904.5,268.4 A89.3,89.3 0 0 0 858.7,346.4 L858.7,346.4 A89.3,89.3 0 0 0 948.0,435.7 L948.0,435.7 A89.3,89.3 0 0 0 1037.3,346.4 L1037.3,346.4 A89.3,89.3 0 0 0 991.5,268.4"/>
<circle cx="948.0" cy="346.4" r="77.0" stroke-width="2.0"/>
<circle cx="948.0" cy="346.4" r="63.2" stroke-width="2.0"/>
<line x1="937.6" y1="283.7" x2="937.6" y2="273.9" stroke-width="2.8"/>
<line x1="885.3" y1="336.0" x2="875.5" y2="336.0" stroke-width="2.8"/>
<line x1="937.6" y1="409.1" x2="937.6" y2="418.9" stroke-width="2.8"/>
<line x1="1010.7" y1="336.0" x2="1020.5" y2="336.0" stroke-width="2.8"/>
<line x1="958.4" y1="283.7" x2="958.4" y2="273.9" stroke-width="2.8"/>
<line x1="885.3" y1="356.8" x2="875.5" y2="356.8" stroke-width="2.8"/>
<line x1="958.4" y1="409.1" x2="958.4" y2="418.9" stroke-width="2.8"/>
<line x1="1010.7" y1="356.8" x2="1020.5" y2="356.8" stroke-width="2.8"/>
<line x1="930.5" y1="285.3" x2="930.5" y2="275.3" stroke-width="2.8"/>
<line x1="886.9" y1="328.9" x2="876.9" y2="328.9" stroke-width="2.8"/>
<line x1="930.5" y1="407.5" x2="930.5" y2="417.5" stroke-width="2.8"/>
<line x1="1009.1" y1="328.9" x2="1019.1" y2="328.9" stroke-width="2.8"/>
<line x1="965.5" y1="285.3" x2="965.5" y2="275.3" stroke-width="2.8"/>
<line x1="886.9" y1="363.9" x2="876.9" y2="363.9" stroke-width="2.8"/>
<line x1="965.5" y1="407.5" x2="965.5" y2="417.5" stroke-width="2.8"/>
<line x1="1009.1" y1="363.9" x2="1019.1" y2="363.9" stroke-width="2.8"/>
<line x1="923.4" y1="287.8" x2="923.4" y2="277.5" stroke-width="2.8"/>
<line x1="889.4" y1="321.8" x2="879.1" y2="321.8" stroke-width="2.8"/>
<line x1="923.4" y1="405.0" x2="923.4" y2="415.3" stroke-width="2.8"/>
<line x1="1006.6" y1="321.8" x2="1016.9" y2="321.8" stroke-width="2.8"/>
<line x1="972.6" y1="287.8" x2="972.6" y2="277.5" stroke-width="2.8"/>
<line x1="889.4" y1="371.0" x2="879.1" y2="371.0" stroke-width="2.8"/>
<line x1="972.6" y1="405.0" x2="972.6" y2="415.3" stroke-width="2.8"/>
<line x1="1006.6" y1="371.0" x2="1016.9" y2="371.0" stroke-width="2.8"/>
<line x1="916.2" y1="291.3" x2="916.2" y2="280.5" stroke-width="2.8"/>
<line x1="892.9" y1="314.6" x2="882.1" y2="314.6" stroke-width="2.8"/>
<line x1="916.2" y1="401.5" x2="916.2" y2="412.3" stroke-width="2.8"/>
<line x1="1003.1" y1="314.6" x2="1013.9" y2="314.6" stroke-width="2.8"/>
<line x1="979.8" y1="291.3" x2="979.8" y2="280.5" stroke-width="2.8"/>
<line x1="892.9" y1="378.2" x2="882.1" y2="378.2" stroke-width="2.8"/>
<line x1="979.8" y1="401.5" x2="979.8" y2="412.3" stroke-width="2.8"/>
<line x1="1003.1" y1="378.2" x2="1013.9" y2="378.2" stroke-width="2.8"/>
<line x1="909.0" y1="296.2" x2="909.0" y2="284.5" stroke-width="2.8"/>
<line x1="897.8" y1="307.4" x2="886.1" y2="307.4" stroke-width="2.8"/>
<line x1="909.0" y1="396.6" x2="909.0" y2="408.3" stroke-width="2.8"/>
<line x1="998.2" y1="307.4" x2="1009.9" y2="307.4" stroke-width="2.8"/>
<line x1="987.0" y1="296.2" x2="987.0" y2="284.5" stroke-width="2.8"/>
<line x1="897.8" y1="385.4" x2="886.1" y2="385.4" stroke-width="2.8"/>
<line x1="987.0" y1="396.6" x2="987.0" y2="408.3" stroke-width="2.8"/>
<line x1="998.2" y1="385.4" x2="1009.9" y2="385.4" stroke-width="2.8"/>
<path d="M1011.5,353.7 L1022.0,351.4 L1022.0,341.4 L1011.5,339.1" stroke-width="1.5"/>
<path d="M940.7,409.9 L943.0,420.4 L953.0,420.4 L955.3,409.9" stroke-width="1.5"/>
<path d="M884.5,339.1 L874.0,341.4 L874.0,351.4 L884.5,353.7" stroke-width="1.5"/>
<path d="M955.3,282.9 L953.0,272.4 L943.0,272.4 L940.7,282.9" stroke-width="1.5"/>
<path d="M1019.7,375.4 C1019.8,376.4 1020.7,379.0 1020.4,381.7 C1020.0,384.4 1019.8,387.6 1017.6,391.6 C1015.5,395.6 1011.5,401.7 1007.4,405.8 C1003.3,409.9 997.2,413.9 993.2,416.0 C989.2,418.2 986.0,418.4 983.3,418.8 C980.6,419.1 978.0,418.2 977.0,418.1" stroke-width="1.5"/>
<path d="M1006.8,396.6 Q1014.8,400.5 1007.0,405.4" stroke-width="1.6"/>
<path d="M998.2,405.2 Q1002.1,413.2 1007.0,405.4" stroke-width="1.6"/>
<rect x="1001.0" y="285.0" width="7.8" height="7.3" stroke-width="1.5"/>
<path d="M1008.8,292.3 L1008.8,298.5 M1001.0,292.3 L1002.4,294.5" stroke-width="1.4"/>
<path d="M1007.9,283.5 L990.5,279 M989.5,268.4 L989.5,279.5" stroke-width="1.4"/>
<path d="M876.3,375.4 C876.2,376.4 875.3,379.0 875.6,381.7 C876.0,384.4 876.2,387.6 878.4,391.6 C880.5,395.6 884.5,401.7 888.6,405.8 C892.7,409.9 898.8,413.9 902.8,416.0 C906.8,418.2 910.0,418.4 912.7,418.8 C915.4,419.1 918.0,418.2 919.0,418.1" stroke-width="1.5"/>
<path d="M889.2,396.6 Q881.2,400.5 889.0,405.4" stroke-width="1.6"/>
<path d="M897.8,405.2 Q893.9,413.2 889.0,405.4" stroke-width="1.6"/>
<rect x="887.2" y="285.0" width="7.8" height="7.3" stroke-width="1.5"/>
<path d="M887.2,292.3 L887.2,298.5 M895.0,292.3 L893.6,294.5" stroke-width="1.4"/>
<path d="M888.1,283.5 L905.5,279 M906.5,268.4 L906.5,279.5" stroke-width="1.4"/>
<circle cx="954.2" cy="317.1" r="8.9"/>
<line x1="954.2" y1="303.3" x2="954.2" y2="330.0"/>
<line x1="887.5" y1="252.0" x2="1007.8" y2="252.0"/>
<path d="M888.1,252.3 L888.9,265.1 Q889.8,267.5 890.7,265.1 L891.5,252.3" stroke-width="1.7" fill="#161616"/>
<path d="M893.6,252.3 L894.4,265.1 Q895.3,267.5 896.2,265.1 L897.0,252.3" stroke-width="1.7" fill="#161616"/>
<path d="M899.0,252.3 L899.8,265.1 Q900.7,267.5 901.6,265.1 L902.4,252.3" stroke-width="1.7" fill="none"/>
<path d="M904.5,252.3 L905.3,265.1 Q906.2,267.5 907.1,265.1 L907.9,252.3" stroke-width="1.7" fill="none"/>
<path d="M909.9,252.3 L910.7,265.1 Q911.6,267.5 912.5,265.1 L913.3,252.3" stroke-width="1.7" fill="none"/>
<path d="M915.4,252.3 L916.2,265.1 Q917.1,267.5 918.0,265.1 L918.8,252.3" stroke-width="1.7" fill="none"/>
<path d="M920.8,252.3 L921.6,265.1 Q922.5,267.5 923.4,265.1 L924.2,252.3" stroke-width="1.7" fill="none"/>
<path d="M926.3,252.3 L927.1,265.1 Q928.0,267.5 928.9,265.1 L929.7,252.3" stroke-width="1.7" fill="none"/>
<path d="M931.7,252.3 L932.5,265.1 Q933.4,267.5 934.3,265.1 L935.1,252.3" stroke-width="1.7" fill="none"/>
<path d="M937.2,252.3 L938.0,265.1 Q938.9,267.5 939.8,265.1 L940.6,252.3" stroke-width="1.7" fill="none"/>
<path d="M942.6,252.3 L943.4,265.1 Q944.3,267.5 945.2,265.1 L946.0,252.3" stroke-width="1.7" fill="none"/>
<path d="M948.1,252.3 L948.9,265.1 Q949.8,267.5 950.7,265.1 L951.5,252.3" stroke-width="1.7" fill="none"/>
<path d="M953.5,252.3 L954.3,265.1 Q955.2,267.5 956.1,265.1 L956.9,252.3" stroke-width="1.7" fill="none"/>
<path d="M959.0,252.3 L959.8,265.1 Q960.7,267.5 961.6,265.1 L962.4,252.3" stroke-width="1.7" fill="none"/>
<path d="M964.4,252.3 L965.2,265.1 Q966.1,267.5 967.0,265.1 L967.8,252.3" stroke-width="1.7" fill="none"/>
<path d="M969.9,266.3 L969.9,260.8 Q971.6,258.3 973.3,260.8 L973.3,266.3" stroke-width="1.8"/>
<path d="M975.3,266.3 L975.3,260.8 Q977.0,258.3 978.7,260.8 L978.7,266.3" stroke-width="1.8"/>
<path d="M980.8,266.3 L980.8,260.8 Q982.5,258.3 984.2,260.8 L984.2,266.3" stroke-width="1.8"/>
<path d="M986.2,266.3 L986.2,260.8 Q987.9,258.3 989.6,260.8 L989.6,266.3" stroke-width="1.8"/>
<path d="M991.7,266.3 L991.7,260.8 Q993.4,258.3 995.1,260.8 L995.1,266.3" stroke-width="1.8"/>
<path d="M997.1,266.3 L997.1,260.8 Q998.8,258.3 1000.5,260.8 L1000.5,266.3" stroke-width="1.8"/>
<path d="M1002.6,252.3 L1003.4,265.1 Q1004.3,267.5 1005.2,265.1 L1006.0,252.3" stroke-width="1.7" fill="#161616"/>
<line x1="904.4" y1="269.2" x2="989.5" y2="269.2"/>
<path d="M884.8,252 L883.2,199.3 M1010.8,252 L1012.6,199.3"/>
<path d="M884.8,252 Q948.0,240.5 1010.8,252" stroke-width="1.5"/>
<rect x="882.6" y="195.3" width="130.8" height="4.0"/>
<path d="M884.8,195.3 L887.7,169.8 L1008.3,169.8 L1011.2,195.3"/>
<path d="M898.0,195.3 L898.0,171.8 L998.0,171.8 L998.0,195.3" stroke-width="1.5"/>
<path d="M900.0,195.3 L900.0,173.2 M996.0,195.3 L996.0,173.2" stroke-width="1.3"/>
<line x1="900.0" y1="183.2" x2="996.0" y2="183.2" stroke-width="1.4"/>
<line x1="888.0" y1="190.3" x2="898.0" y2="190.3" stroke-width="1.4"/>
<line x1="1008.0" y1="190.3" x2="998.0" y2="190.3" stroke-width="1.4"/>
<line x1="889.0" y1="179.5" x2="898.0" y2="179.5" stroke-width="1.2"/>
<line x1="1007.0" y1="179.5" x2="998.0" y2="179.5" stroke-width="1.2"/>
<line x1="891.0" y1="171.0" x2="1005.0" y2="171.0" stroke-width="1.2"/>
<rect x="903.6" y="177.4" width="5.6" height="4.4" stroke-width="1.4"/>
<rect x="918.0" y="175.0" width="30.0" height="5.0" stroke-width="1.5"/>
<path d="M963.0,176.2 Q963.0,174.6 965.0,174.6 L978.0,174.6 Q980.0,174.6 980.0,176.2 Q971.5,183 963.0,176.2 Z" stroke-width="1.5"/>
<rect x="918.5" y="183.6" width="61.0" height="10.2" stroke-width="1.5"/>
<path d="M1012.8,199.3 L1015.4,199.3 L1015.4,225.6 L1013.2,225.6" stroke-width="1.5"/>
<rect x="1015.6" y="201.6" width="7.6" height="14.6" stroke-width="2.0"/>
<rect x="1023.2" y="200.2" width="3.6" height="17.4" stroke-width="2.2"/>
<line x1="1018.0" y1="201.6" x2="1018.0" y2="216.2" stroke-width="1.4"/>
<line x1="1015.6" y1="211.8" x2="1023.2" y2="211.8" stroke-width="1.8"/>
<path d="M1027.0,201 L1031.8,201 A8.1,7.9 0 0 1 1031.8,216.8 L1027.0,216.8" stroke-width="1.9"/>
<path d="M1028.6,203.6 L1031.3,203.6 A5.3,5.2 0 0 1 1031.3,214 L1028.6,214 Z" stroke-width="1.7"/>
<path d="M1034.0,203.2 A6.6,6.6 0 0 1 1034.0,214.6" stroke-width="1.3"/>
<line x1="812.0" y1="240.8" x2="877.6" y2="240.8" stroke-width="2.6"/>
<line x1="877.6" y1="242.0" x2="884.5" y2="242.0" stroke-width="1.5"/>
<path d="M811,252.2 L839.8,252.2 L842.8,257.6 L845.2,257.6 M850.8,257.6 L853.5,257.6 L856.6,252.2 L884.8,252.2"/>
<path d="M832.2,250.3 L834.6,245.3 L837,250.3 Z" stroke-width="1.3"/>
<line x1="873.4" y1="253.2" x2="887.6" y2="270.5"/>
<rect x="845.3" y="249.8" width="5.6" height="8.5" stroke-width="1.5"/>
<rect x="844.3" y="258.3" width="8.2" height="6.1" stroke-width="1.5"/>
<line x1="847.9" y1="264.4" x2="847.9" y2="271.0" stroke-width="1.5"/>
<path d="M847.9,270.5 C853,270.5 858.8,271.5 858.8,273.6 C858.8,276 840.1,275.5 840.1,277.7 C840.1,280 858.8,279.5 858.8,281.8 C858.8,284 840.1,283.5 840.1,285.8 C840.1,288 858.8,287.7 858.8,289.9 C858.8,292 840.6,291.8 840.6,294 C840.6,296.5 857,296 857,298.2 C857,300.5 848.2,304 847.9,310.5" stroke-width="2.6"/>
<path d="M841.3,329.6 L841.3,316 Q841.3,311.3 846,311.3 L849.6,311.3 Q854.2,311.3 854.2,316 L854.2,329.6 Z" stroke-width="1.7"/>
<line x1="841.3" y1="315.5" x2="854.2" y2="315.5" stroke-width="1.2"/>
<line x1="841.3" y1="319.5" x2="854.2" y2="319.5" stroke-width="1.2"/>
<line x1="841.3" y1="323.5" x2="854.2" y2="323.5" stroke-width="1.2"/>
<line x1="841.3" y1="327.0" x2="854.2" y2="327.0" stroke-width="1.2"/>
<line x1="844.4" y1="311.8" x2="844.4" y2="329.6" stroke-width="1.2"/>
<line x1="847.8" y1="311.8" x2="847.8" y2="329.6" stroke-width="1.2"/>
<line x1="851.2" y1="311.8" x2="851.2" y2="329.6" stroke-width="1.2"/>
<path d="M839.8,329.6 L856.9,329.6 M839.8,329.6 L839.8,412 M856.9,329.6 L856.9,412 M839.8,336 L856.9,336 M839.8,343 L856.9,343" stroke-width="1.5"/>
<path d="M839.8,369.5 Q848.3,373.5 856.9,369.5" stroke-width="1.5"/>
<rect x="844.3" y="349.2" width="7.7" height="12.2" stroke-width="1.5"/>
<line x1="846.5" y1="349.2" x2="846.5" y2="361.4" stroke-width="1.1"/>
<line x1="849.8" y1="349.2" x2="849.8" y2="361.4" stroke-width="1.1"/>
<line x1="844.3" y1="352.5" x2="852.0" y2="352.5" stroke-width="1.1"/>
<line x1="847.9" y1="361.4" x2="847.9" y2="375.0" stroke-width="1.6"/>
<path d="M847.9,374.6 C851,375 853.8,376 853.8,377.7 C853.8,380.5 839.8,381 839.8,383.8 C839.8,386.5 856,385.5 856,387.9 C856,390 841,389.5 840,392" stroke-width="2.2"/>
<ellipse cx="848.3" cy="394.5" rx="8.6" ry="4.2" stroke-width="2.3"/>
<ellipse cx="848.3" cy="399" rx="9.0" ry="4.6" stroke-width="2.3"/>
<ellipse cx="848.3" cy="403.5" rx="9.0" ry="4.6" stroke-width="2.3"/>
<ellipse cx="848.3" cy="407.5" rx="8.8" ry="4.2" stroke-width="2.3"/>
<circle cx="847.9" cy="423.0" r="9.2" stroke-width="1.6" fill="#fff"/>
<rect x="844.6" y="417.4" width="6.8" height="13.2" stroke-width="1.0" fill="#161616"/>
<path d="M801.5,429.1 L894.8,429.1 Q896.8,429.1 896.8,431 L896.8,437.3 Q896.8,439.3 894.8,439.3 L801.5,439.3 Q799.5,439.3 799.5,437.3 L799.5,431 Q799.5,429.1 801.5,429.1 Z" stroke-width="1.6"/>
<line x1="818.0" y1="440.8" x2="878.4" y2="440.8" stroke-width="2.6"/>
<path d="M831.2,436.6 L833.6,431.4 L836,436.6 Z" stroke-width="1.3"/>
<path d="M816.3,414.3 Q825,420 827.5,429 M879.5,414.3 Q871,420 869.3,429" stroke-width="1.5"/>
<path d="M808.3,820.8 A95.6,95.6 0 0 0 777.3,805 L718.7,805 A95.6,95.6 0 0 0 656.4,868.6 L656.4,923.4 A95.6,95.6 0 0 0 720.3,987.5 L775.7,987.5 A95.6,95.6 0 0 0 797,979.5" stroke-dasharray="6.4 3.6"/>
<path d="M804.6,828.6 L799.4,824.6 L793.9,820.9 L788.2,817.7 L782.2,814.9 L776.0,812.6 L769.7,810.7 L763.3,809.3 L756.8,808.4 L750.2,808.0 L743.7,808.1 L737.1,808.7 L730.6,809.7 L724.2,811.3 L718.0,813.3 L711.9,815.8 L706.0,818.7 L700.3,822.0 L694.9,825.8 L689.8,830.0 L685.1,834.5 L680.6,839.4 L676.6,844.6 L673.0,850.0 L669.7,855.8 L666.9,861.7 L664.6,867.9 L662.7,874.2 L661.4,880.6 L660.4,887.1 L660.0,893.7 L660.1,900.3 L660.7,906.8 L661.7,913.3 L663.3,919.7 L665.3,926.0 L667.7,932.1 L670.7,938.0 L674.0,943.6 L677.8,949.0 L681.9,954.1 L686.4,958.9 L691.3,963.3 L696.5,967.4 L702.0,971.0 L707.7,974.2 L713.7,977.0 L719.8,979.4 L726.1,981.2 L732.5,982.6 L739.1,983.5 L745.6,984.0 L752.2,983.9 L758.7,983.3 L765.2,982.3 L771.6,980.8 L777.9,978.8 L784.0,976.3 L789.9,973.4 L795.6,970.0 L801.0,966.3" stroke-dasharray="6.4 3.6"/>
<path d="M799.5,885.0 C799.2,882.8 798.8,876.7 798.0,872.0 C797.2,867.3 797.0,861.4 795.0,856.7 C793.0,852.0 789.6,847.3 786.0,844.0 C782.4,840.7 777.7,838.8 773.3,836.7 C768.9,834.6 761.8,832.4 759.5,831.5" stroke-dasharray="6.4 3.6"/>
<path d="M725.0,830.8 C722.5,831.8 714.7,834.3 710.0,836.7 C705.3,839.1 700.6,842.0 696.7,845.0 C692.8,848.0 689.6,851.1 686.7,855.0 C683.8,858.9 681.2,863.6 679.2,868.3 C677.2,873.0 675.8,878.7 675.0,883.3 C674.2,887.9 674.0,890.5 674.2,895.8 C674.4,901.1 674.8,908.8 676.0,915.0 C677.2,921.2 679.0,927.6 681.7,933.3 C684.4,939.0 687.8,944.3 692.0,949.0 C696.2,953.7 701.7,958.1 706.7,961.7 C711.7,965.3 716.5,968.1 722.0,970.5 C727.5,972.9 734.3,974.8 740.0,975.8 C745.7,976.8 751.0,976.9 756.0,976.8 C761.0,976.7 764.3,976.7 770.0,975.0 C775.7,973.3 783.6,970.0 790.0,966.7 C796.4,963.4 805.2,957.0 808.3,955.0" stroke-dasharray="6.4 3.6"/>
<path d="M725.0,844.2 C723.0,845.2 716.9,847.6 713.3,850.0 C709.7,852.4 706.3,855.0 703.3,858.3 C700.2,861.6 697.1,865.8 695.0,870.0 C692.9,874.2 691.6,879.0 690.8,883.3 C690.0,887.6 689.8,891.5 690.0,895.8 C690.2,900.1 690.9,904.7 692.0,909.0 C693.1,913.3 694.9,917.9 696.7,921.7 C698.5,925.5 700.5,929.0 703.0,932.0 C705.5,935.0 708.5,937.5 711.7,940.0 C714.9,942.5 718.4,945.2 722.0,947.0 C725.6,948.8 729.5,950.0 733.3,950.8 C737.1,951.6 741.1,952.0 745.0,952.0 C748.9,952.0 753.0,951.5 756.7,950.8 C760.4,950.1 763.7,949.2 767.0,948.0 C770.3,946.8 775.1,944.1 776.7,943.3" stroke-dasharray="6.4 3.6"/>
<path d="M730.0,871.7 C728.7,872.4 724.0,874.3 722.0,876.0 C720.0,877.7 719.5,878.4 718.3,881.7 C717.1,885.0 715.1,891.6 715.0,895.8 C714.9,900.0 716.1,903.5 717.5,907.0 C718.9,910.5 721.0,914.0 723.3,916.7 C725.5,919.4 728.2,921.3 731.0,923.0 C733.8,924.7 736.3,925.7 740.0,926.7 C743.7,927.7 751.1,928.8 753.3,929.2" stroke-dasharray="6.4 3.6"/>
<path d="M733.3,876.7 C732.4,877.4 729.4,879.3 728.0,881.0 C726.6,882.7 725.8,884.2 725.0,886.7 C724.2,889.2 723.0,892.8 723.3,895.8 C723.6,898.8 725.3,902.1 727.0,905.0 C728.7,907.9 730.5,910.5 733.3,913.3 C736.1,916.0 740.1,919.0 744.0,921.5 C747.9,924.0 751.2,924.9 756.7,928.3 C762.2,931.7 770.8,938.2 776.7,941.7 C782.6,945.2 787.0,946.8 792.0,949.0 C797.0,951.2 802.0,952.3 806.7,955.0 C811.4,957.7 817.1,962.0 820.0,965.0 C822.9,968.0 823.3,971.9 824.0,973.3" stroke-dasharray="6.4 3.6"/>
<path d="M759.2,866.7 C760.7,867.5 763.2,869.5 768.3,871.7 C773.4,873.9 784.7,877.8 790.0,880.0 C795.3,882.2 795.0,882.0 800.0,885.0 C805.0,888.0 813.3,893.0 820.0,898.3 C826.7,903.5 835.4,912.8 840.0,916.5 C844.6,920.2 846.5,920.1 847.8,920.8" stroke-dasharray="6.4 3.6"/>
<path d="M847.8,920.8 C849.3,920.1 851.6,920.7 856.7,916.7 C861.8,912.7 871.6,902.5 878.3,896.7 C885.0,890.9 890.6,885.5 896.7,881.7 C902.8,877.9 908.3,876.5 915.0,874.0 C921.7,871.5 933.1,867.9 936.7,866.7" stroke-dasharray="6.4 3.6"/>
<rect x="799.5" y="791.7" width="97.2" height="10.0" stroke-dasharray="6.4 3.6"/>
<line x1="818.0" y1="791.7" x2="880.0" y2="791.7" stroke-width="2.6" stroke-dasharray="8 3"/>
<path d="M823.3,801.7 C824.1,803.4 826.8,807.5 828.3,811.7 C829.8,815.9 831.5,821.7 832.5,826.7 C833.5,831.7 833.9,839.2 834.2,841.7" stroke-dasharray="6.4 3.6"/>
<line x1="834.2" y1="841.7" x2="866.7" y2="841.7" stroke-dasharray="6.4 3.6"/>
<path d="M834.2,841.7 C833.5,843.6 831.0,849.7 830.0,853.3 C829.0,856.9 828.4,859.7 828.3,863.3 C828.2,866.9 829.1,871.7 829.5,875.0 C829.9,878.3 830.3,880.0 830.8,883.3 C831.3,886.6 832.2,893.0 832.5,895.0" stroke-dasharray="6.4 3.6"/>
<path d="M823.3,801.7 C821.1,804.8 813.9,813.6 810.0,820.0 C806.1,826.4 802.5,833.9 800.0,840.0 C797.5,846.1 795.8,853.9 795.0,856.7" stroke-dasharray="6.4 3.6"/>
<path d="M871.7,801.7 C870.6,804.2 866.5,811.7 865.0,816.7 C863.5,821.7 862.2,827.8 862.5,831.7 C862.8,835.6 864.1,837.9 866.7,840.0 C869.3,842.1 873.0,843.1 878.3,844.2 C883.6,845.3 891.9,846.3 898.3,846.7 C904.7,847.1 910.3,847.3 916.7,846.7 C923.1,846.1 933.4,843.9 936.7,843.3" stroke-dasharray="6.4 3.6"/>
<path d="M873.3,803.3 C875.0,804.4 879.7,808.5 883.3,810.0 C886.9,811.5 891.7,811.7 895.0,812.0 C898.3,812.3 900.5,812.3 903.3,811.7 C906.1,811.1 909.2,809.5 912.0,808.5 C914.8,807.5 916.2,806.1 920.0,805.5 C923.8,804.9 932.5,804.8 935.0,804.6" stroke-dasharray="6.4 3.6"/>
<path d="M820.0,900.0 C822.4,899.0 829.5,895.5 834.2,894.2 C838.9,893.0 842.3,893.5 848.3,892.5 C854.3,891.5 862.5,889.5 870.0,888.0 C877.5,886.5 888.3,884.3 893.3,883.3 C898.3,882.2 898.9,882.0 900.0,881.7" stroke-dasharray="6.4 3.6"/>
<path d="M892.5,880.8 C893.5,878.2 895.7,869.9 898.3,865.0 C900.9,860.1 905.2,854.8 908.3,851.7 C911.4,848.7 915.3,847.5 916.7,846.7" stroke-dasharray="6.4 3.6"/>
<rect x="799.5" y="978.3" width="96.3" height="10.9" stroke-dasharray="6.4 3.6"/>
<line x1="818.0" y1="989.2" x2="880.0" y2="989.2" stroke-width="2.6" stroke-dasharray="8 3"/>
<path d="M806.0,955.5 C807.0,956.2 812.2,958.2 812.0,960.0 C811.8,961.8 807.5,963.9 805.0,966.0 C802.5,968.1 798.3,971.4 797.0,972.5" stroke-dasharray="6.4 3.6"/>
<path d="M870.0,973.3 C871.7,971.6 875.5,966.9 880.0,963.3 C884.5,959.7 890.6,955.3 896.7,951.7 C902.8,948.1 908.4,946.2 916.7,941.7 C925.0,937.2 939.5,928.9 946.7,925.0 C953.9,921.1 957.8,919.4 960.0,918.3" stroke-dasharray="6.4 3.6"/>
<path d="M868.0,975.0 C870.0,975.1 875.2,975.0 880.0,975.5 C884.8,976.0 892.0,976.9 896.7,978.3 C901.4,979.7 904.1,982.5 908.0,984.0 C911.9,985.5 918.0,986.7 920.0,987.2" stroke-dasharray="6.4 3.6"/>
<path d="M918.7,805 L977.3,805 A95.6,95.6 0 0 1 1039.6,868.6 L1039.6,923.4 A95.6,95.6 0 0 1 975.7,987.5 L920.3,987.5" stroke-dasharray="6.4 3.6"/>
<path d="M922.0,808.5 C924.7,808.7 932.6,809.1 938.0,809.5 C943.4,809.9 948.0,809.7 954.2,810.8 C960.4,811.9 968.7,813.6 975.0,816.0 C981.3,818.4 986.7,821.5 992.0,825.0 C997.3,828.5 1002.7,832.4 1006.7,836.7 C1010.7,841.0 1013.6,846.0 1016.0,851.0 C1018.4,856.0 1019.5,861.5 1021.3,866.7 C1023.1,871.9 1025.9,877.1 1027.0,882.0 C1028.1,886.9 1028.1,890.5 1028.0,896.3 C1027.9,902.1 1027.4,911.1 1026.3,916.7 C1025.2,922.3 1023.4,925.8 1021.5,930.0 C1019.6,934.2 1017.5,938.0 1014.7,941.7 C1012.0,945.4 1008.3,949.0 1005.0,952.0 C1001.7,955.0 999.0,957.5 994.7,960.0 C990.4,962.5 984.6,965.2 979.0,967.0 C973.4,968.8 967.0,970.0 961.3,970.8 C955.6,971.5 950.2,971.6 945.0,971.5 C939.8,971.4 934.7,971.1 930.0,970.0 C925.3,968.9 918.9,965.8 916.7,965.0" stroke-dasharray="6.4 3.6"/>
<path d="M971.3,848.3 C973.2,849.6 979.4,852.9 983.0,856.0 C986.6,859.1 990.0,862.5 993.0,866.7 C996.0,870.9 999.2,876.1 1001.0,881.0 C1002.8,885.9 1003.5,891.6 1003.8,896.3 C1004.1,901.0 1003.7,905.0 1003.0,909.0 C1002.3,913.0 1001.5,916.2 999.7,920.0 C998.0,923.8 995.3,928.4 992.5,932.0 C989.7,935.6 986.6,939.0 983.0,941.7 C979.4,944.5 975.2,946.7 971.0,948.5 C966.8,950.3 962.0,951.5 958.0,952.5 C954.0,953.5 951.4,954.6 946.7,954.5 C942.0,954.4 935.0,953.8 930.0,951.7 C925.0,949.6 918.9,943.4 916.7,941.7" stroke-dasharray="6.4 3.6"/>
<path d="M963.3,876.7 C964.9,877.4 970.4,879.1 973.0,881.0 C975.6,882.9 977.7,885.5 979.0,888.0 C980.3,890.5 980.9,893.0 980.8,896.0 C980.7,899.0 980.3,902.8 978.5,906.0 C976.7,909.2 972.4,912.5 970.0,915.0 C967.6,917.5 966.2,918.8 964.0,921.0 C961.8,923.2 959.9,927.1 956.7,928.3 C953.5,929.5 946.7,928.3 944.7,928.3" stroke-dasharray="6.4 3.6"/>
<path d="M958.0,880.0 C959.3,880.7 963.8,882.3 966.0,884.0 C968.2,885.7 969.9,888.0 971.0,890.0 C972.1,892.0 972.6,893.7 972.5,896.0 C972.4,898.3 971.8,901.5 970.5,904.0 C969.2,906.5 967.2,908.9 965.0,911.0 C962.8,913.1 958.3,915.6 957.0,916.5" stroke-dasharray="6.4 3.6"/>
<rect x="725.3" y="826.3" width="33.9" height="52.0" stroke-dasharray="6.4 3.6"/>
<rect x="727.0" y="829.5" width="28.0" height="18.0" stroke-dasharray="6.4 3.6"/>
<rect x="730.8" y="856.7" width="27.2" height="16.6" stroke-dasharray="6.4 3.6"/>
<rect x="937.2" y="826.3" width="34.0" height="52.0" stroke-dasharray="6.4 3.6"/>
<rect x="941.0" y="829.5" width="28.0" height="18.0" stroke-dasharray="6.4 3.6"/>
<rect x="938.5" y="856.7" width="27.1" height="16.6" stroke-dasharray="6.4 3.6"/>
<rect x="830.8" y="960.8" width="34.2" height="22.5" stroke-dasharray="6.4 3.6"/>
<rect x="830.8" y="991.7" width="34.2" height="21.6" stroke-dasharray="6.4 3.6"/>
<rect x="834.0" y="964.0" width="28.0" height="16.0" stroke-dasharray="6.4 3.6"/>
<line x1="725.3" y1="866.8" x2="734.0" y2="866.8"/>
<line x1="962.0" y1="866.8" x2="971.0" y2="866.8"/>
<path d="M775.0,840.0 C775.7,839.1 777.3,835.7 779.0,834.5 C780.7,833.3 783.0,832.8 785.0,833.0 C787.0,833.2 790.0,835.1 791.0,835.5"/>
<line x1="772.5" y1="836.5" x2="780.0" y2="842.0"/>
<circle cx="742.0" cy="837.3" r="5.2" fill="#fff"/>
<line x1="734.5" y1="837.3" x2="749.5" y2="837.3"/>
<circle cx="742.0" cy="866.8" r="8.4" fill="#fff"/>
<circle cx="742.0" cy="866.8" r="3.1" stroke-width="0.5" fill="#161616"/>
<circle cx="954.2" cy="837.3" r="5.2" fill="#fff"/>
<line x1="946.7" y1="837.3" x2="961.7" y2="837.3"/>
<circle cx="954.2" cy="866.8" r="8.4" fill="#fff"/>
<circle cx="954.2" cy="866.8" r="3.1" stroke-width="0.5" fill="#161616"/>
<circle cx="847.8" cy="973.0" r="10.0" fill="#fff"/>
<circle cx="847.8" cy="973.0" r="8.0" stroke-width="1.3"/>
<circle cx="847.8" cy="973.0" r="3.2" stroke-width="0.5" fill="#161616"/>
<circle cx="847.8" cy="1002.0" r="5.3" fill="#fff"/>
<line x1="841.0" y1="1002.0" x2="853.0" y2="1002.0"/>
<line x1="847.8" y1="995.5" x2="847.8" y2="1008.5"/>
<line x1="683.3" y1="878.3" x2="683.3" y2="913.3"/>
<path d="M683.3,889 A7,7 0 0 1 683.3,903"/>
<line x1="1019.8" y1="878.3" x2="1019.8" y2="914.0"/>
<path d="M1019.8,889.3 A7,7 0 0 0 1019.8,903.3"/>
<line x1="656.7" y1="891.5" x2="656.7" y2="900.3"/>
<line x1="742.0" y1="705.0" x2="742.0" y2="884.5"/>
<line x1="954.2" y1="705.0" x2="954.2" y2="885.0"/>
<line x1="742.0" y1="711.4" x2="954.2" y2="711.4"/>
<polygon points="742.0,711.4 758.2,706.9 758.2,715.9" fill="#161616" stroke="none"/>
<polygon points="954.2,711.4 938.0,715.9 938.0,706.9" fill="#161616" stroke="none"/>
<text x="848.0" y="704.4" font-size="27.5" text-anchor="middle" letter-spacing="0">560</text>
<polygon points="847.8,734.2 841.0,755.0 854.6,755.0" fill="#161616" stroke="none"/>
<line x1="847.8" y1="755.0" x2="847.8" y2="760.0"/>
<polygon points="847.8,1026.7 841.0,1046.7 854.6,1046.7" fill="#161616" stroke="none"/>
<line x1="847.8" y1="1046.7" x2="847.8" y2="1066.7"/>
<line x1="847.8" y1="760.0" x2="847.8" y2="1016.0" stroke-dasharray="22 5 9 5"/>
<line x1="649.0" y1="895.9" x2="1028.0" y2="895.9" stroke-dasharray="15 5"/>
<line x1="1028.0" y1="896.1" x2="1108.0" y2="896.1"/>
<line x1="759.5" y1="866.8" x2="1108.0" y2="866.8"/>
<line x1="945.8" y1="837.1" x2="1073.0" y2="837.1"/>
<line x1="870.0" y1="972.8" x2="1108.0" y2="972.8"/>
<line x1="853.3" y1="1002.0" x2="922.5" y2="1002.0"/>
<line x1="1067.6" y1="789.0" x2="1067.6" y2="837.1"/>
<line x1="1067.6" y1="866.8" x2="1067.6" y2="891.0"/>
<polygon points="1067.6,837.1 1063.1,820.9 1072.1,820.9" fill="#161616" stroke="none"/>
<polygon points="1067.6,866.8 1072.1,883.0 1063.1,883.0" fill="#161616" stroke="none"/>
<text x="1061.3" y="802.4" font-size="27.5" text-anchor="middle" transform="rotate(-90 1061.3 802.4)" letter-spacing="0">50</text>
<line x1="1101.3" y1="838.3" x2="1101.3" y2="972.8"/>
<polygon points="1101.3,866.8 1096.8,850.6 1105.8,850.6" fill="#161616" stroke="none"/>
<polygon points="1101.3,896.1 1105.8,912.3 1096.8,912.3" fill="#161616" stroke="none"/>
<polygon points="1101.3,972.8 1096.8,956.6 1105.8,956.6" fill="#161616" stroke="none"/>
<text x="1096.3" y="834.0" font-size="27.5" text-anchor="middle" transform="rotate(-90 1096.3 834.0)" letter-spacing="0">79</text>
<text x="1096.3" y="935.0" font-size="27.5" text-anchor="middle" transform="rotate(-90 1096.3 935.0)" letter-spacing="0">251</text>
<line x1="916.3" y1="931.7" x2="916.3" y2="972.8"/>
<line x1="916.3" y1="1002.0" x2="916.3" y2="1055.0"/>
<polygon points="916.3,972.8 911.8,956.6 920.8,956.6" fill="#161616" stroke="none"/>
<polygon points="916.3,1002.0 920.8,1018.2 911.8,1018.2" fill="#161616" stroke="none"/>
<text x="910.0" y="1040.0" font-size="27.5" text-anchor="middle" transform="rotate(-90 910.0 1040.0)" letter-spacing="0">50</text>
<line x1="786.3" y1="996.7" x2="846.5" y2="996.7"/>
<line x1="786.3" y1="1007.8" x2="846.5" y2="1007.8"/>
<line x1="792.2" y1="956.7" x2="792.2" y2="996.7"/>
<line x1="792.2" y1="1007.8" x2="792.2" y2="1080.0"/>
<polygon points="792.2,996.7 787.7,980.5 796.7,980.5" fill="#161616" stroke="none"/>
<polygon points="792.2,1007.8 796.7,1024.0 787.7,1024.0" fill="#161616" stroke="none"/>
<text x="783.2" y="1076.8" font-size="27.5" transform="rotate(-90 783.2 1076.8)"><tspan textLength="17.1" lengthAdjust="spacingAndGlyphs">Ø</tspan><tspan dx="0.6">18</tspan></text>
<circle cx="316.3" cy="898.9" r="48.8"/>
<circle cx="316.3" cy="898.9" r="29.4"/>
<circle cx="316.3" cy="898.9" r="15.0"/>
<circle cx="316.3" cy="898.9" r="36.7" stroke-dasharray="13 5"/>
<circle cx="289.5" cy="872.5" r="5.8"/>
<line x1="284.5" y1="878.7" x2="294.4" y2="866.6"/>
<line x1="268.2" y1="898.9" x2="368.0" y2="898.9" stroke-dasharray="8 4"/>
<line x1="316.3" y1="847.3" x2="316.3" y2="947.5" stroke-dasharray="20 5 8 5"/>
<line x1="267.6" y1="747.7" x2="267.6" y2="898.9"/>
<line x1="365.0" y1="747.7" x2="365.0" y2="898.9"/>
<line x1="267.6" y1="759.0" x2="365.0" y2="759.0"/>
<polygon points="267.6,759.0 283.8,754.5 283.8,763.5" fill="#161616" stroke="none"/>
<polygon points="365.0,759.0 348.8,763.5 348.8,754.5" fill="#161616" stroke="none"/>
<text x="279.3" y="749.2" font-size="27.5"><tspan textLength="17.1" lengthAdjust="spacingAndGlyphs">Ø</tspan><tspan dx="2.0"> 220</tspan></text>
<line x1="279.7" y1="787.6" x2="279.7" y2="898.9"/>
<line x1="353.1" y1="787.6" x2="353.1" y2="898.9"/>
<line x1="279.7" y1="796.2" x2="353.1" y2="796.2"/>
<polygon points="279.7,796.2 295.9,791.7 295.9,800.7" fill="#161616" stroke="none"/>
<polygon points="353.1,796.2 336.9,800.7 336.9,791.7" fill="#161616" stroke="none"/>
<text x="278.3" y="786.0" font-size="27.5"><tspan textLength="17.1" lengthAdjust="spacingAndGlyphs">Ø</tspan><tspan dx="2.0"> 180</tspan></text>
<line x1="286.6" y1="830.5" x2="286.6" y2="898.9"/>
<line x1="345.5" y1="830.5" x2="345.5" y2="889.0"/>
<line x1="286.6" y1="836.3" x2="345.5" y2="836.3"/>
<polygon points="286.6,836.3 302.8,831.8 302.8,840.8" fill="#161616" stroke="none"/>
<polygon points="345.5,836.3 329.3,840.8 329.3,831.8" fill="#161616" stroke="none"/>
<text x="279.8" y="827.6" font-size="27.5"><tspan textLength="17.1" lengthAdjust="spacingAndGlyphs">Ø</tspan><tspan dx="2.0"> 156</tspan></text>
<line x1="237.3" y1="866.8" x2="289.5" y2="866.8"/>
<line x1="237.3" y1="877.6" x2="289.5" y2="877.6"/>
<line x1="246.1" y1="827.2" x2="246.1" y2="866.8"/>
<line x1="246.1" y1="877.6" x2="246.1" y2="960.0"/>
<polygon points="246.1,866.8 241.6,850.6 250.6,850.6" fill="#161616" stroke="none"/>
<polygon points="246.1,877.6 250.6,893.8 241.6,893.8" fill="#161616" stroke="none"/>
<text x="238.5" y="975.0" font-size="27.5" transform="rotate(-90 238.5 975.0)"><tspan>8 x </tspan><tspan textLength="17.1" lengthAdjust="spacingAndGlyphs">Ø</tspan><tspan dx="1.0"> 19</tspan></text>
<line x1="301.4" y1="898.9" x2="301.4" y2="987.0"/>
<line x1="331.5" y1="898.9" x2="331.5" y2="987.0"/>
<line x1="262.4" y1="978.4" x2="301.4" y2="978.4"/>
<line x1="331.5" y1="978.4" x2="405.8" y2="978.4"/>
<polygon points="301.4,978.4 285.2,982.9 285.2,973.9" fill="#161616" stroke="none"/>
<polygon points="331.5,978.4 347.7,973.9 347.7,982.9" fill="#161616" stroke="none"/>
<text x="373.6" y="968.2" font-size="27.5" text-anchor="middle" letter-spacing="-0.5">DN 100</text>
<line x1="683.0" y1="118.9" x2="683.0" y2="196.0"/>
<line x1="1039.8" y1="118.9" x2="1039.8" y2="209.0"/>
<line x1="683.0" y1="125.0" x2="1039.6" y2="125.0"/>
<polygon points="683.0,125.0 699.2,120.5 699.2,129.5" fill="#161616" stroke="none"/>
<polygon points="1039.6,125.0 1023.4,129.5 1023.4,120.5" fill="#161616" stroke="none"/>
<text x="859.8" y="117.0" font-size="27.5" text-anchor="middle" letter-spacing="0">713</text>
<line x1="551.0" y1="240.6" x2="812.0" y2="240.6"/>
<line x1="551.0" y1="440.8" x2="801.0" y2="440.8"/>
<line x1="587.2" y1="346.4" x2="656.4" y2="346.4"/>
<line x1="623.3" y1="317.1" x2="969.4" y2="317.1"/>
<line x1="623.3" y1="423.1" x2="862.5" y2="423.1"/>
<line x1="557.5" y1="240.6" x2="557.5" y2="440.8"/>
<polygon points="557.5,240.6 562.0,256.8 553.0,256.8" fill="#161616" stroke="none"/>
<polygon points="557.5,440.8 553.0,424.6 562.0,424.6" fill="#161616" stroke="none"/>
<text x="548.6" y="347.4" font-size="27.5" text-anchor="middle" transform="rotate(-90 548.6 347.4)" letter-spacing="0">550</text>
<line x1="593.6" y1="240.6" x2="593.6" y2="346.4"/>
<polygon points="593.6,240.6 598.1,256.8 589.1,256.8" fill="#161616" stroke="none"/>
<polygon points="593.6,346.4 589.1,330.2 598.1,330.2" fill="#161616" stroke="none"/>
<text x="587.0" y="307.0" font-size="27.5" text-anchor="middle" transform="rotate(-90 587.0 307.0)" letter-spacing="0">275</text>
<line x1="629.4" y1="285.6" x2="629.4" y2="423.1"/>
<polygon points="629.4,317.1 624.9,300.9 633.9,300.9" fill="#161616" stroke="none"/>
<polygon points="629.4,346.4 633.9,362.6 624.9,362.6" fill="#161616" stroke="none"/>
<polygon points="629.4,423.1 624.9,406.9 633.9,406.9" fill="#161616" stroke="none"/>
<text x="623.0" y="287.0" font-size="27.5" text-anchor="middle" transform="rotate(-90 623.0 287.0)" letter-spacing="0">79</text>
<text x="623.0" y="391.7" font-size="27.5" text-anchor="middle" transform="rotate(-90 623.0 391.7)" letter-spacing="0">251</text>
<line x1="1008.0" y1="169.8" x2="1080.0" y2="169.8"/>
<line x1="1040.0" y1="346.4" x2="1080.0" y2="346.4"/>
<line x1="1074.1" y1="169.8" x2="1074.1" y2="346.4"/>
<polygon points="1074.1,169.8 1078.6,186.0 1069.6,186.0" fill="#161616" stroke="none"/>
<polygon points="1074.1,346.4 1069.6,330.2 1078.6,330.2" fill="#161616" stroke="none"/>
<text x="1066.0" y="275.0" font-size="27.5" text-anchor="middle" transform="rotate(-90 1066.0 275.0)" letter-spacing="0">303</text>
<polygon points="848.0,172.2 841.2,193.9 854.8,193.9" fill="#161616" stroke="none"/>
<line x1="848.0" y1="193.9" x2="848.0" y2="213.3"/>
<polygon points="848.0,459.7 841.2,480.6 854.8,480.6" fill="#161616" stroke="none"/>
<line x1="848.0" y1="480.6" x2="848.0" y2="499.4"/>
<line x1="748.0" y1="160.6" x2="748.0" y2="447.5" stroke-dasharray="24 5 9 5"/>
<line x1="948.0" y1="160.6" x2="948.0" y2="447.5" stroke-dasharray="24 5 9 5"/>
<line x1="848.0" y1="234.0" x2="848.0" y2="446.0" stroke-dasharray="14 5 30 5"/>
<line x1="660.0" y1="346.4" x2="1040.0" y2="346.4" stroke-dasharray="14 5"/>
<line x1="215.8" y1="73.0" x2="215.8" y2="496.0" stroke-dasharray="20 5 9 5"/>
<line x1="416.3" y1="73.0" x2="416.3" y2="515.0" stroke-dasharray="20 5 9 5"/>
<line x1="316.3" y1="430.8" x2="316.3" y2="580.0" stroke-dasharray="30 5 10 5"/>
<line x1="266.7" y1="496.3" x2="373.3" y2="496.3" stroke-dasharray="14 5"/>
<line x1="28.7" y1="81.7" x2="158.5" y2="81.7"/>
<line x1="28.7" y1="141.0" x2="159.5" y2="141.0"/>
<line x1="28.7" y1="496.7" x2="262.0" y2="496.7"/>
<line x1="28.7" y1="567.5" x2="201.5" y2="567.5"/>
<line x1="35.0" y1="81.7" x2="35.0" y2="567.5"/>
<polygon points="35.0,81.7 39.5,97.9 30.5,97.9" fill="#161616" stroke="none"/>
<polygon points="35.0,141.0 39.5,157.2 30.5,157.2" fill="#161616" stroke="none"/>
<polygon points="35.0,496.7 39.5,512.9 30.5,512.9" fill="#161616" stroke="none"/>
<polygon points="35.0,141.0 30.5,124.8 39.5,124.8" fill="#161616" stroke="none"/>
<polygon points="35.0,496.7 30.5,480.5 39.5,480.5" fill="#161616" stroke="none"/>
<polygon points="35.0,567.5 30.5,551.3 39.5,551.3" fill="#161616" stroke="none"/>
<text x="27.6" y="115.4" font-size="27.5" text-anchor="middle" transform="rotate(-90 27.6 115.4)" letter-spacing="0">120</text>
<text x="25.2" y="319.2" font-size="27.5" text-anchor="middle" transform="rotate(-90 25.2 319.2)" letter-spacing="0">743</text>
<text x="27.6" y="532.5" font-size="27.5" text-anchor="middle" transform="rotate(-90 27.6 532.5)" letter-spacing="0">155</text>
<text x="72.0" y="313.3" font-size="27.5" text-anchor="middle" transform="rotate(-90 72.0 313.3)" letter-spacing="0.38">1xM12/2xM16/1xM20/1xM25</text>
<line x1="81.7" y1="275.0" x2="81.7" y2="389.2"/>
<line x1="81.7" y1="275.0" x2="133.0" y2="260.8"/>
<polygon points="133.0,260.8 118.6,269.5 116.2,260.8" fill="#161616" stroke="none"/>
<line x1="81.7" y1="275.0" x2="130.8" y2="279.0"/>
<polygon points="130.8,279.0 114.3,282.2 115.0,273.2" fill="#161616" stroke="none"/>
<line x1="81.7" y1="275.0" x2="130.8" y2="293.0"/>
<polygon points="130.8,293.0 114.0,291.6 117.1,283.2" fill="#161616" stroke="none"/>
<line x1="81.7" y1="275.0" x2="128.3" y2="308.3"/>
<polygon points="128.3,308.3 112.5,302.5 117.7,295.2" fill="#161616" stroke="none"/>
<line x1="81.7" y1="275.0" x2="124.4" y2="327.5"/>
<polygon points="124.4,327.5 110.7,317.8 117.7,312.1" fill="#161616" stroke="none"/>
<line x1="339.9" y1="29.4" x2="339.9" y2="107.0"/>
<line x1="492.9" y1="29.4" x2="492.9" y2="107.0"/>
<line x1="339.9" y1="35.7" x2="492.9" y2="35.7"/>
<polygon points="339.9,35.7 356.1,31.2 356.1,40.2" fill="#161616" stroke="none"/>
<polygon points="492.9,35.7 476.7,40.2 476.7,31.2" fill="#161616" stroke="none"/>
<text x="378.2" y="24.4" font-size="27.5" text-anchor="start" letter-spacing="0.2">Ø 254</text>
<line x1="141.2" y1="497.0" x2="141.2" y2="632.5"/>
<line x1="215.9" y1="467.0" x2="215.9" y2="632.5"/>
<line x1="416.5" y1="515.0" x2="416.5" y2="632.5"/>
<line x1="496.9" y1="497.0" x2="496.9" y2="632.5"/>
<line x1="141.2" y1="624.5" x2="496.9" y2="624.5"/>
<polygon points="141.2,624.5 157.4,620.0 157.4,629.0" fill="#161616" stroke="none"/>
<polygon points="215.9,624.5 232.1,620.0 232.1,629.0" fill="#161616" stroke="none"/>
<polygon points="416.5,624.5 432.7,620.0 432.7,629.0" fill="#161616" stroke="none"/>
<polygon points="215.9,624.5 199.7,629.0 199.7,620.0" fill="#161616" stroke="none"/>
<polygon points="416.5,624.5 400.3,629.0 400.3,620.0" fill="#161616" stroke="none"/>
<polygon points="496.9,624.5 480.7,629.0 480.7,620.0" fill="#161616" stroke="none"/>
<text x="175.1" y="614.6" font-size="27.5" text-anchor="middle" letter-spacing="0">183</text>
<text x="315.3" y="614.6" font-size="27.5" text-anchor="middle" letter-spacing="0">450</text>
<text x="454.0" y="614.6" font-size="27.5" text-anchor="middle" letter-spacing="0">197</text>
<path d="M317.3,568 L363.6,673.2 L478.8,673.2"/>
<polygon points="317.3,568.0 327.9,581.0 319.7,584.6" fill="#161616" stroke="none"/>
<text x="444.0" y="662.7" font-size="27.5" text-anchor="middle" letter-spacing="-0.37">3 x M12 x 20</text>
</g>
</svg>
</body></html>
